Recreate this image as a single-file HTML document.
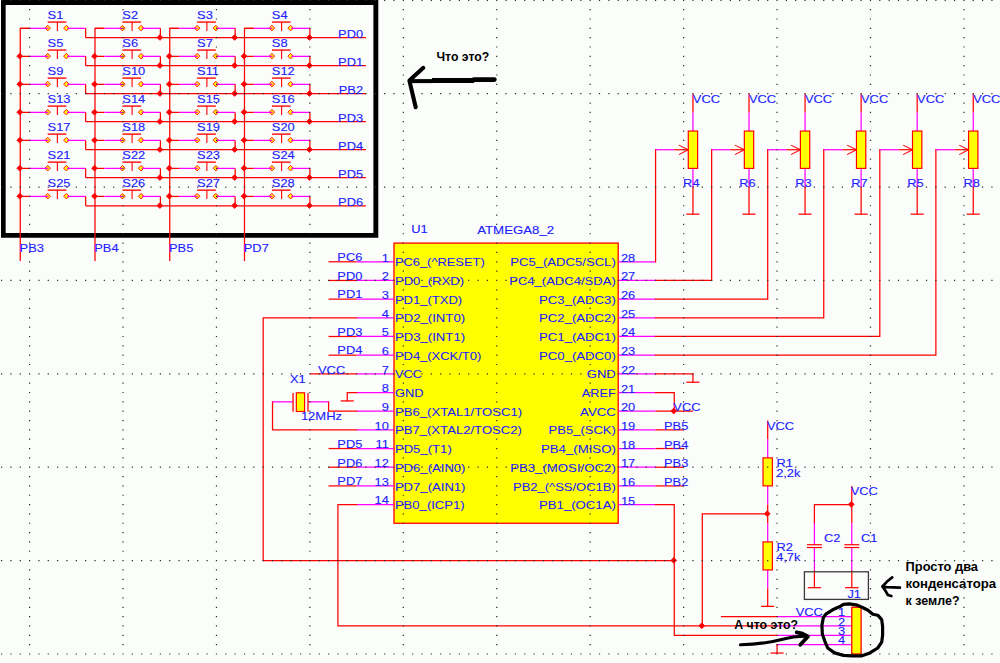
<!DOCTYPE html>
<html><head><meta charset="utf-8"><style>
html,body{margin:0;padding:0;background:#fbfdfb;}
svg{display:block;font-family:"Liberation Sans",sans-serif;}
</style></head><body>
<svg width="1000" height="663" viewBox="0 0 1000 663">
<rect width="1000" height="663" fill="#fbfdfb"/>
<path d="M1 -1H378.3V237.7H1Z M5.66 5.0H373.4V233.1H5.66Z" fill="#000" fill-rule="evenodd"/>
<polygon points="44.94,28.13 47.69,25.38 50.44,28.13 47.69,30.88" fill="#ffff00" stroke="#ff0000" stroke-width="0.9"/>
<polygon points="63.62,28.13 66.37,25.38 69.12,28.13 66.37,30.88" fill="#ffff00" stroke="#ff0000" stroke-width="0.9"/>
<polygon points="119.68,28.13 122.43,25.38 125.18,28.13 122.43,30.88" fill="#ffff00" stroke="#ff0000" stroke-width="0.9"/>
<polygon points="138.37,28.13 141.12,25.38 143.87,28.13 141.12,30.88" fill="#ffff00" stroke="#ff0000" stroke-width="0.9"/>
<polygon points="194.42,28.13 197.17,25.38 199.92,28.13 197.17,30.88" fill="#ffff00" stroke="#ff0000" stroke-width="0.9"/>
<polygon points="213.11,28.13 215.86,25.38 218.61,28.13 215.86,30.88" fill="#ffff00" stroke="#ff0000" stroke-width="0.9"/>
<polygon points="269.17,28.13 271.92,25.38 274.67,28.13 271.92,30.88" fill="#ffff00" stroke="#ff0000" stroke-width="0.9"/>
<polygon points="287.85,28.13 290.6,25.38 293.35,28.13 290.6,30.88" fill="#ffff00" stroke="#ff0000" stroke-width="0.9"/>
<polygon points="44.94,56.15 47.69,53.4 50.44,56.15 47.69,58.9" fill="#ffff00" stroke="#ff0000" stroke-width="0.9"/>
<polygon points="63.62,56.15 66.37,53.4 69.12,56.15 66.37,58.9" fill="#ffff00" stroke="#ff0000" stroke-width="0.9"/>
<polygon points="119.68,56.15 122.43,53.4 125.18,56.15 122.43,58.9" fill="#ffff00" stroke="#ff0000" stroke-width="0.9"/>
<polygon points="138.37,56.15 141.12,53.4 143.87,56.15 141.12,58.9" fill="#ffff00" stroke="#ff0000" stroke-width="0.9"/>
<polygon points="194.42,56.15 197.17,53.4 199.92,56.15 197.17,58.9" fill="#ffff00" stroke="#ff0000" stroke-width="0.9"/>
<polygon points="213.11,56.15 215.86,53.4 218.61,56.15 215.86,58.9" fill="#ffff00" stroke="#ff0000" stroke-width="0.9"/>
<polygon points="269.17,56.15 271.92,53.4 274.67,56.15 271.92,58.9" fill="#ffff00" stroke="#ff0000" stroke-width="0.9"/>
<polygon points="287.85,56.15 290.6,53.4 293.35,56.15 290.6,58.9" fill="#ffff00" stroke="#ff0000" stroke-width="0.9"/>
<polygon points="44.94,84.16 47.69,81.41 50.44,84.16 47.69,86.91" fill="#ffff00" stroke="#ff0000" stroke-width="0.9"/>
<polygon points="63.62,84.16 66.37,81.41 69.12,84.16 66.37,86.91" fill="#ffff00" stroke="#ff0000" stroke-width="0.9"/>
<polygon points="119.68,84.16 122.43,81.41 125.18,84.16 122.43,86.91" fill="#ffff00" stroke="#ff0000" stroke-width="0.9"/>
<polygon points="138.37,84.16 141.12,81.41 143.87,84.16 141.12,86.91" fill="#ffff00" stroke="#ff0000" stroke-width="0.9"/>
<polygon points="194.42,84.16 197.17,81.41 199.92,84.16 197.17,86.91" fill="#ffff00" stroke="#ff0000" stroke-width="0.9"/>
<polygon points="213.11,84.16 215.86,81.41 218.61,84.16 215.86,86.91" fill="#ffff00" stroke="#ff0000" stroke-width="0.9"/>
<polygon points="269.17,84.16 271.92,81.41 274.67,84.16 271.92,86.91" fill="#ffff00" stroke="#ff0000" stroke-width="0.9"/>
<polygon points="287.85,84.16 290.6,81.41 293.35,84.16 290.6,86.91" fill="#ffff00" stroke="#ff0000" stroke-width="0.9"/>
<polygon points="44.94,112.18 47.69,109.43 50.44,112.18 47.69,114.93" fill="#ffff00" stroke="#ff0000" stroke-width="0.9"/>
<polygon points="63.62,112.18 66.37,109.43 69.12,112.18 66.37,114.93" fill="#ffff00" stroke="#ff0000" stroke-width="0.9"/>
<polygon points="119.68,112.18 122.43,109.43 125.18,112.18 122.43,114.93" fill="#ffff00" stroke="#ff0000" stroke-width="0.9"/>
<polygon points="138.37,112.18 141.12,109.43 143.87,112.18 141.12,114.93" fill="#ffff00" stroke="#ff0000" stroke-width="0.9"/>
<polygon points="194.42,112.18 197.17,109.43 199.92,112.18 197.17,114.93" fill="#ffff00" stroke="#ff0000" stroke-width="0.9"/>
<polygon points="213.11,112.18 215.86,109.43 218.61,112.18 215.86,114.93" fill="#ffff00" stroke="#ff0000" stroke-width="0.9"/>
<polygon points="269.17,112.18 271.92,109.43 274.67,112.18 271.92,114.93" fill="#ffff00" stroke="#ff0000" stroke-width="0.9"/>
<polygon points="287.85,112.18 290.6,109.43 293.35,112.18 290.6,114.93" fill="#ffff00" stroke="#ff0000" stroke-width="0.9"/>
<polygon points="44.94,140.19 47.69,137.44 50.44,140.19 47.69,142.94" fill="#ffff00" stroke="#ff0000" stroke-width="0.9"/>
<polygon points="63.62,140.19 66.37,137.44 69.12,140.19 66.37,142.94" fill="#ffff00" stroke="#ff0000" stroke-width="0.9"/>
<polygon points="119.68,140.19 122.43,137.44 125.18,140.19 122.43,142.94" fill="#ffff00" stroke="#ff0000" stroke-width="0.9"/>
<polygon points="138.37,140.19 141.12,137.44 143.87,140.19 141.12,142.94" fill="#ffff00" stroke="#ff0000" stroke-width="0.9"/>
<polygon points="194.42,140.19 197.17,137.44 199.92,140.19 197.17,142.94" fill="#ffff00" stroke="#ff0000" stroke-width="0.9"/>
<polygon points="213.11,140.19 215.86,137.44 218.61,140.19 215.86,142.94" fill="#ffff00" stroke="#ff0000" stroke-width="0.9"/>
<polygon points="269.17,140.19 271.92,137.44 274.67,140.19 271.92,142.94" fill="#ffff00" stroke="#ff0000" stroke-width="0.9"/>
<polygon points="287.85,140.19 290.6,137.44 293.35,140.19 290.6,142.94" fill="#ffff00" stroke="#ff0000" stroke-width="0.9"/>
<polygon points="44.94,168.2 47.69,165.45 50.44,168.2 47.69,170.95" fill="#ffff00" stroke="#ff0000" stroke-width="0.9"/>
<polygon points="63.62,168.2 66.37,165.45 69.12,168.2 66.37,170.95" fill="#ffff00" stroke="#ff0000" stroke-width="0.9"/>
<polygon points="119.68,168.2 122.43,165.45 125.18,168.2 122.43,170.95" fill="#ffff00" stroke="#ff0000" stroke-width="0.9"/>
<polygon points="138.37,168.2 141.12,165.45 143.87,168.2 141.12,170.95" fill="#ffff00" stroke="#ff0000" stroke-width="0.9"/>
<polygon points="194.42,168.2 197.17,165.45 199.92,168.2 197.17,170.95" fill="#ffff00" stroke="#ff0000" stroke-width="0.9"/>
<polygon points="213.11,168.2 215.86,165.45 218.61,168.2 215.86,170.95" fill="#ffff00" stroke="#ff0000" stroke-width="0.9"/>
<polygon points="269.17,168.2 271.92,165.45 274.67,168.2 271.92,170.95" fill="#ffff00" stroke="#ff0000" stroke-width="0.9"/>
<polygon points="287.85,168.2 290.6,165.45 293.35,168.2 290.6,170.95" fill="#ffff00" stroke="#ff0000" stroke-width="0.9"/>
<polygon points="44.94,196.22 47.69,193.47 50.44,196.22 47.69,198.97" fill="#ffff00" stroke="#ff0000" stroke-width="0.9"/>
<polygon points="63.62,196.22 66.37,193.47 69.12,196.22 66.37,198.97" fill="#ffff00" stroke="#ff0000" stroke-width="0.9"/>
<polygon points="119.68,196.22 122.43,193.47 125.18,196.22 122.43,198.97" fill="#ffff00" stroke="#ff0000" stroke-width="0.9"/>
<polygon points="138.37,196.22 141.12,193.47 143.87,196.22 141.12,198.97" fill="#ffff00" stroke="#ff0000" stroke-width="0.9"/>
<polygon points="194.42,196.22 197.17,193.47 199.92,196.22 197.17,198.97" fill="#ffff00" stroke="#ff0000" stroke-width="0.9"/>
<polygon points="213.11,196.22 215.86,193.47 218.61,196.22 215.86,198.97" fill="#ffff00" stroke="#ff0000" stroke-width="0.9"/>
<polygon points="269.17,196.22 271.92,193.47 274.67,196.22 271.92,198.97" fill="#ffff00" stroke="#ff0000" stroke-width="0.9"/>
<polygon points="287.85,196.22 290.6,193.47 293.35,196.22 290.6,198.97" fill="#ffff00" stroke="#ff0000" stroke-width="0.9"/>
<line x1="20.26" y1="28.33" x2="29.6" y2="28.33" stroke="#ff0000" stroke-width="1.25" stroke-linecap="butt"/>
<line x1="29.6" y1="28.33" x2="48.29" y2="28.33" stroke="#ff00ff" stroke-width="1.25" stroke-linecap="butt"/>
<line x1="66.97" y1="28.33" x2="85.66" y2="28.33" stroke="#ff00ff" stroke-width="1.25" stroke-linecap="butt"/>
<line x1="85.66" y1="28.33" x2="85.66" y2="37.67" stroke="#ff0000" stroke-width="1.25" stroke-linecap="butt"/>
<line x1="47.69" y1="22.08" x2="66.37" y2="22.08" stroke="#ff2020" stroke-width="1.55" stroke-linecap="butt"/>
<line x1="57.38" y1="22.08" x2="57.38" y2="30.95" stroke="#ff0000" stroke-width="1.1" stroke-linecap="butt"/>
<text transform="translate(47.59,19.2) scale(1.25,1)" text-anchor="start" fill="#2020ff" stroke="#2020ff" stroke-width="0.1" font-size="10.3">S1</text>
<line x1="95" y1="28.33" x2="104.34" y2="28.33" stroke="#ff0000" stroke-width="1.25" stroke-linecap="butt"/>
<line x1="104.34" y1="28.33" x2="123.03" y2="28.33" stroke="#ff00ff" stroke-width="1.25" stroke-linecap="butt"/>
<line x1="141.72" y1="28.33" x2="160.4" y2="28.33" stroke="#ff00ff" stroke-width="1.25" stroke-linecap="butt"/>
<line x1="160.4" y1="28.33" x2="160.4" y2="37.67" stroke="#ff0000" stroke-width="1.25" stroke-linecap="butt"/>
<line x1="122.43" y1="22.08" x2="141.12" y2="22.08" stroke="#ff2020" stroke-width="1.55" stroke-linecap="butt"/>
<line x1="132.12" y1="22.08" x2="132.12" y2="30.95" stroke="#ff0000" stroke-width="1.1" stroke-linecap="butt"/>
<text transform="translate(122.33,19.2) scale(1.25,1)" text-anchor="start" fill="#2020ff" stroke="#2020ff" stroke-width="0.1" font-size="10.3">S2</text>
<line x1="169.75" y1="28.33" x2="179.09" y2="28.33" stroke="#ff0000" stroke-width="1.25" stroke-linecap="butt"/>
<line x1="179.09" y1="28.33" x2="197.77" y2="28.33" stroke="#ff00ff" stroke-width="1.25" stroke-linecap="butt"/>
<line x1="216.46" y1="28.33" x2="235.15" y2="28.33" stroke="#ff00ff" stroke-width="1.25" stroke-linecap="butt"/>
<line x1="235.15" y1="28.33" x2="235.15" y2="37.67" stroke="#ff0000" stroke-width="1.25" stroke-linecap="butt"/>
<line x1="197.17" y1="22.08" x2="215.86" y2="22.08" stroke="#ff2020" stroke-width="1.55" stroke-linecap="butt"/>
<line x1="206.87" y1="22.08" x2="206.87" y2="30.95" stroke="#ff0000" stroke-width="1.1" stroke-linecap="butt"/>
<text transform="translate(197.07,19.2) scale(1.25,1)" text-anchor="start" fill="#2020ff" stroke="#2020ff" stroke-width="0.1" font-size="10.3">S3</text>
<line x1="244.49" y1="28.33" x2="253.83" y2="28.33" stroke="#ff0000" stroke-width="1.25" stroke-linecap="butt"/>
<line x1="253.83" y1="28.33" x2="272.52" y2="28.33" stroke="#ff00ff" stroke-width="1.25" stroke-linecap="butt"/>
<line x1="291.2" y1="28.33" x2="309.89" y2="28.33" stroke="#ff00ff" stroke-width="1.25" stroke-linecap="butt"/>
<line x1="309.89" y1="28.33" x2="309.89" y2="37.67" stroke="#ff0000" stroke-width="1.25" stroke-linecap="butt"/>
<line x1="271.92" y1="22.08" x2="290.6" y2="22.08" stroke="#ff2020" stroke-width="1.55" stroke-linecap="butt"/>
<line x1="281.61" y1="22.08" x2="281.61" y2="30.95" stroke="#ff0000" stroke-width="1.1" stroke-linecap="butt"/>
<text transform="translate(271.82,19.2) scale(1.25,1)" text-anchor="start" fill="#2020ff" stroke="#2020ff" stroke-width="0.1" font-size="10.3">S4</text>
<line x1="85.66" y1="37.67" x2="365.95" y2="37.67" stroke="#ff0000" stroke-width="1.25" stroke-linecap="butt"/>
<text transform="translate(363.11,37.57) scale(1.25,1)" text-anchor="end" fill="#2020ff" stroke="#2020ff" stroke-width="0.1" font-size="10.3">PD0</text>
<line x1="20.26" y1="56.35" x2="29.6" y2="56.35" stroke="#ff0000" stroke-width="1.25" stroke-linecap="butt"/>
<line x1="29.6" y1="56.35" x2="48.29" y2="56.35" stroke="#ff00ff" stroke-width="1.25" stroke-linecap="butt"/>
<line x1="66.97" y1="56.35" x2="85.66" y2="56.35" stroke="#ff00ff" stroke-width="1.25" stroke-linecap="butt"/>
<line x1="85.66" y1="56.35" x2="85.66" y2="65.69" stroke="#ff0000" stroke-width="1.25" stroke-linecap="butt"/>
<line x1="47.69" y1="50.09" x2="66.37" y2="50.09" stroke="#ff2020" stroke-width="1.55" stroke-linecap="butt"/>
<line x1="57.38" y1="50.09" x2="57.38" y2="58.96" stroke="#ff0000" stroke-width="1.1" stroke-linecap="butt"/>
<text transform="translate(47.59,47.21) scale(1.25,1)" text-anchor="start" fill="#2020ff" stroke="#2020ff" stroke-width="0.1" font-size="10.3">S5</text>
<line x1="95" y1="56.35" x2="104.34" y2="56.35" stroke="#ff0000" stroke-width="1.25" stroke-linecap="butt"/>
<line x1="104.34" y1="56.35" x2="123.03" y2="56.35" stroke="#ff00ff" stroke-width="1.25" stroke-linecap="butt"/>
<line x1="141.72" y1="56.35" x2="160.4" y2="56.35" stroke="#ff00ff" stroke-width="1.25" stroke-linecap="butt"/>
<line x1="160.4" y1="56.35" x2="160.4" y2="65.69" stroke="#ff0000" stroke-width="1.25" stroke-linecap="butt"/>
<line x1="122.43" y1="50.09" x2="141.12" y2="50.09" stroke="#ff2020" stroke-width="1.55" stroke-linecap="butt"/>
<line x1="132.12" y1="50.09" x2="132.12" y2="58.96" stroke="#ff0000" stroke-width="1.1" stroke-linecap="butt"/>
<text transform="translate(122.33,47.21) scale(1.25,1)" text-anchor="start" fill="#2020ff" stroke="#2020ff" stroke-width="0.1" font-size="10.3">S6</text>
<line x1="169.75" y1="56.35" x2="179.09" y2="56.35" stroke="#ff0000" stroke-width="1.25" stroke-linecap="butt"/>
<line x1="179.09" y1="56.35" x2="197.77" y2="56.35" stroke="#ff00ff" stroke-width="1.25" stroke-linecap="butt"/>
<line x1="216.46" y1="56.35" x2="235.15" y2="56.35" stroke="#ff00ff" stroke-width="1.25" stroke-linecap="butt"/>
<line x1="235.15" y1="56.35" x2="235.15" y2="65.69" stroke="#ff0000" stroke-width="1.25" stroke-linecap="butt"/>
<line x1="197.17" y1="50.09" x2="215.86" y2="50.09" stroke="#ff2020" stroke-width="1.55" stroke-linecap="butt"/>
<line x1="206.87" y1="50.09" x2="206.87" y2="58.96" stroke="#ff0000" stroke-width="1.1" stroke-linecap="butt"/>
<text transform="translate(197.07,47.21) scale(1.25,1)" text-anchor="start" fill="#2020ff" stroke="#2020ff" stroke-width="0.1" font-size="10.3">S7</text>
<line x1="244.49" y1="56.35" x2="253.83" y2="56.35" stroke="#ff0000" stroke-width="1.25" stroke-linecap="butt"/>
<line x1="253.83" y1="56.35" x2="272.52" y2="56.35" stroke="#ff00ff" stroke-width="1.25" stroke-linecap="butt"/>
<line x1="291.2" y1="56.35" x2="309.89" y2="56.35" stroke="#ff00ff" stroke-width="1.25" stroke-linecap="butt"/>
<line x1="309.89" y1="56.35" x2="309.89" y2="65.69" stroke="#ff0000" stroke-width="1.25" stroke-linecap="butt"/>
<line x1="271.92" y1="50.09" x2="290.6" y2="50.09" stroke="#ff2020" stroke-width="1.55" stroke-linecap="butt"/>
<line x1="281.61" y1="50.09" x2="281.61" y2="58.96" stroke="#ff0000" stroke-width="1.1" stroke-linecap="butt"/>
<text transform="translate(271.82,47.21) scale(1.25,1)" text-anchor="start" fill="#2020ff" stroke="#2020ff" stroke-width="0.1" font-size="10.3">S8</text>
<line x1="85.66" y1="65.69" x2="365.95" y2="65.69" stroke="#ff0000" stroke-width="1.25" stroke-linecap="butt"/>
<text transform="translate(363.11,65.59) scale(1.25,1)" text-anchor="end" fill="#2020ff" stroke="#2020ff" stroke-width="0.1" font-size="10.3">PD1</text>
<line x1="20.26" y1="84.36" x2="29.6" y2="84.36" stroke="#ff0000" stroke-width="1.25" stroke-linecap="butt"/>
<line x1="29.6" y1="84.36" x2="48.29" y2="84.36" stroke="#ff00ff" stroke-width="1.25" stroke-linecap="butt"/>
<line x1="66.97" y1="84.36" x2="85.66" y2="84.36" stroke="#ff00ff" stroke-width="1.25" stroke-linecap="butt"/>
<line x1="85.66" y1="84.36" x2="85.66" y2="93.7" stroke="#ff0000" stroke-width="1.25" stroke-linecap="butt"/>
<line x1="47.69" y1="78.11" x2="66.37" y2="78.11" stroke="#ff2020" stroke-width="1.55" stroke-linecap="butt"/>
<line x1="57.38" y1="78.11" x2="57.38" y2="86.98" stroke="#ff0000" stroke-width="1.1" stroke-linecap="butt"/>
<text transform="translate(47.59,75.22) scale(1.25,1)" text-anchor="start" fill="#2020ff" stroke="#2020ff" stroke-width="0.1" font-size="10.3">S9</text>
<line x1="95" y1="84.36" x2="104.34" y2="84.36" stroke="#ff0000" stroke-width="1.25" stroke-linecap="butt"/>
<line x1="104.34" y1="84.36" x2="123.03" y2="84.36" stroke="#ff00ff" stroke-width="1.25" stroke-linecap="butt"/>
<line x1="141.72" y1="84.36" x2="160.4" y2="84.36" stroke="#ff00ff" stroke-width="1.25" stroke-linecap="butt"/>
<line x1="160.4" y1="84.36" x2="160.4" y2="93.7" stroke="#ff0000" stroke-width="1.25" stroke-linecap="butt"/>
<line x1="122.43" y1="78.11" x2="141.12" y2="78.11" stroke="#ff2020" stroke-width="1.55" stroke-linecap="butt"/>
<line x1="132.12" y1="78.11" x2="132.12" y2="86.98" stroke="#ff0000" stroke-width="1.1" stroke-linecap="butt"/>
<text transform="translate(122.33,75.22) scale(1.25,1)" text-anchor="start" fill="#2020ff" stroke="#2020ff" stroke-width="0.1" font-size="10.3">S10</text>
<line x1="169.75" y1="84.36" x2="179.09" y2="84.36" stroke="#ff0000" stroke-width="1.25" stroke-linecap="butt"/>
<line x1="179.09" y1="84.36" x2="197.77" y2="84.36" stroke="#ff00ff" stroke-width="1.25" stroke-linecap="butt"/>
<line x1="216.46" y1="84.36" x2="235.15" y2="84.36" stroke="#ff00ff" stroke-width="1.25" stroke-linecap="butt"/>
<line x1="235.15" y1="84.36" x2="235.15" y2="93.7" stroke="#ff0000" stroke-width="1.25" stroke-linecap="butt"/>
<line x1="197.17" y1="78.11" x2="215.86" y2="78.11" stroke="#ff2020" stroke-width="1.55" stroke-linecap="butt"/>
<line x1="206.87" y1="78.11" x2="206.87" y2="86.98" stroke="#ff0000" stroke-width="1.1" stroke-linecap="butt"/>
<text transform="translate(197.07,75.22) scale(1.25,1)" text-anchor="start" fill="#2020ff" stroke="#2020ff" stroke-width="0.1" font-size="10.3">S11</text>
<line x1="244.49" y1="84.36" x2="253.83" y2="84.36" stroke="#ff0000" stroke-width="1.25" stroke-linecap="butt"/>
<line x1="253.83" y1="84.36" x2="272.52" y2="84.36" stroke="#ff00ff" stroke-width="1.25" stroke-linecap="butt"/>
<line x1="291.2" y1="84.36" x2="309.89" y2="84.36" stroke="#ff00ff" stroke-width="1.25" stroke-linecap="butt"/>
<line x1="309.89" y1="84.36" x2="309.89" y2="93.7" stroke="#ff0000" stroke-width="1.25" stroke-linecap="butt"/>
<line x1="271.92" y1="78.11" x2="290.6" y2="78.11" stroke="#ff2020" stroke-width="1.55" stroke-linecap="butt"/>
<line x1="281.61" y1="78.11" x2="281.61" y2="86.98" stroke="#ff0000" stroke-width="1.1" stroke-linecap="butt"/>
<text transform="translate(271.82,75.22) scale(1.25,1)" text-anchor="start" fill="#2020ff" stroke="#2020ff" stroke-width="0.1" font-size="10.3">S12</text>
<line x1="85.66" y1="93.7" x2="365.95" y2="93.7" stroke="#ff0000" stroke-width="1.25" stroke-linecap="butt"/>
<text transform="translate(363.11,93.6) scale(1.25,1)" text-anchor="end" fill="#2020ff" stroke="#2020ff" stroke-width="0.1" font-size="10.3">PB2</text>
<line x1="20.26" y1="112.38" x2="29.6" y2="112.38" stroke="#ff0000" stroke-width="1.25" stroke-linecap="butt"/>
<line x1="29.6" y1="112.38" x2="48.29" y2="112.38" stroke="#ff00ff" stroke-width="1.25" stroke-linecap="butt"/>
<line x1="66.97" y1="112.38" x2="85.66" y2="112.38" stroke="#ff00ff" stroke-width="1.25" stroke-linecap="butt"/>
<line x1="85.66" y1="112.38" x2="85.66" y2="121.71" stroke="#ff0000" stroke-width="1.25" stroke-linecap="butt"/>
<line x1="47.69" y1="106.12" x2="66.37" y2="106.12" stroke="#ff2020" stroke-width="1.55" stroke-linecap="butt"/>
<line x1="57.38" y1="106.12" x2="57.38" y2="114.99" stroke="#ff0000" stroke-width="1.1" stroke-linecap="butt"/>
<text transform="translate(47.59,103.24) scale(1.25,1)" text-anchor="start" fill="#2020ff" stroke="#2020ff" stroke-width="0.1" font-size="10.3">S13</text>
<line x1="95" y1="112.38" x2="104.34" y2="112.38" stroke="#ff0000" stroke-width="1.25" stroke-linecap="butt"/>
<line x1="104.34" y1="112.38" x2="123.03" y2="112.38" stroke="#ff00ff" stroke-width="1.25" stroke-linecap="butt"/>
<line x1="141.72" y1="112.38" x2="160.4" y2="112.38" stroke="#ff00ff" stroke-width="1.25" stroke-linecap="butt"/>
<line x1="160.4" y1="112.38" x2="160.4" y2="121.71" stroke="#ff0000" stroke-width="1.25" stroke-linecap="butt"/>
<line x1="122.43" y1="106.12" x2="141.12" y2="106.12" stroke="#ff2020" stroke-width="1.55" stroke-linecap="butt"/>
<line x1="132.12" y1="106.12" x2="132.12" y2="114.99" stroke="#ff0000" stroke-width="1.1" stroke-linecap="butt"/>
<text transform="translate(122.33,103.24) scale(1.25,1)" text-anchor="start" fill="#2020ff" stroke="#2020ff" stroke-width="0.1" font-size="10.3">S14</text>
<line x1="169.75" y1="112.38" x2="179.09" y2="112.38" stroke="#ff0000" stroke-width="1.25" stroke-linecap="butt"/>
<line x1="179.09" y1="112.38" x2="197.77" y2="112.38" stroke="#ff00ff" stroke-width="1.25" stroke-linecap="butt"/>
<line x1="216.46" y1="112.38" x2="235.15" y2="112.38" stroke="#ff00ff" stroke-width="1.25" stroke-linecap="butt"/>
<line x1="235.15" y1="112.38" x2="235.15" y2="121.71" stroke="#ff0000" stroke-width="1.25" stroke-linecap="butt"/>
<line x1="197.17" y1="106.12" x2="215.86" y2="106.12" stroke="#ff2020" stroke-width="1.55" stroke-linecap="butt"/>
<line x1="206.87" y1="106.12" x2="206.87" y2="114.99" stroke="#ff0000" stroke-width="1.1" stroke-linecap="butt"/>
<text transform="translate(197.07,103.24) scale(1.25,1)" text-anchor="start" fill="#2020ff" stroke="#2020ff" stroke-width="0.1" font-size="10.3">S15</text>
<line x1="244.49" y1="112.38" x2="253.83" y2="112.38" stroke="#ff0000" stroke-width="1.25" stroke-linecap="butt"/>
<line x1="253.83" y1="112.38" x2="272.52" y2="112.38" stroke="#ff00ff" stroke-width="1.25" stroke-linecap="butt"/>
<line x1="291.2" y1="112.38" x2="309.89" y2="112.38" stroke="#ff00ff" stroke-width="1.25" stroke-linecap="butt"/>
<line x1="309.89" y1="112.38" x2="309.89" y2="121.71" stroke="#ff0000" stroke-width="1.25" stroke-linecap="butt"/>
<line x1="271.92" y1="106.12" x2="290.6" y2="106.12" stroke="#ff2020" stroke-width="1.55" stroke-linecap="butt"/>
<line x1="281.61" y1="106.12" x2="281.61" y2="114.99" stroke="#ff0000" stroke-width="1.1" stroke-linecap="butt"/>
<text transform="translate(271.82,103.24) scale(1.25,1)" text-anchor="start" fill="#2020ff" stroke="#2020ff" stroke-width="0.1" font-size="10.3">S16</text>
<line x1="85.66" y1="121.71" x2="365.95" y2="121.71" stroke="#ff0000" stroke-width="1.25" stroke-linecap="butt"/>
<text transform="translate(363.11,121.61) scale(1.25,1)" text-anchor="end" fill="#2020ff" stroke="#2020ff" stroke-width="0.1" font-size="10.3">PD3</text>
<line x1="20.26" y1="140.39" x2="29.6" y2="140.39" stroke="#ff0000" stroke-width="1.25" stroke-linecap="butt"/>
<line x1="29.6" y1="140.39" x2="48.29" y2="140.39" stroke="#ff00ff" stroke-width="1.25" stroke-linecap="butt"/>
<line x1="66.97" y1="140.39" x2="85.66" y2="140.39" stroke="#ff00ff" stroke-width="1.25" stroke-linecap="butt"/>
<line x1="85.66" y1="140.39" x2="85.66" y2="149.73" stroke="#ff0000" stroke-width="1.25" stroke-linecap="butt"/>
<line x1="47.69" y1="134.13" x2="66.37" y2="134.13" stroke="#ff2020" stroke-width="1.55" stroke-linecap="butt"/>
<line x1="57.38" y1="134.13" x2="57.38" y2="143" stroke="#ff0000" stroke-width="1.1" stroke-linecap="butt"/>
<text transform="translate(47.59,131.25) scale(1.25,1)" text-anchor="start" fill="#2020ff" stroke="#2020ff" stroke-width="0.1" font-size="10.3">S17</text>
<line x1="95" y1="140.39" x2="104.34" y2="140.39" stroke="#ff0000" stroke-width="1.25" stroke-linecap="butt"/>
<line x1="104.34" y1="140.39" x2="123.03" y2="140.39" stroke="#ff00ff" stroke-width="1.25" stroke-linecap="butt"/>
<line x1="141.72" y1="140.39" x2="160.4" y2="140.39" stroke="#ff00ff" stroke-width="1.25" stroke-linecap="butt"/>
<line x1="160.4" y1="140.39" x2="160.4" y2="149.73" stroke="#ff0000" stroke-width="1.25" stroke-linecap="butt"/>
<line x1="122.43" y1="134.13" x2="141.12" y2="134.13" stroke="#ff2020" stroke-width="1.55" stroke-linecap="butt"/>
<line x1="132.12" y1="134.13" x2="132.12" y2="143" stroke="#ff0000" stroke-width="1.1" stroke-linecap="butt"/>
<text transform="translate(122.33,131.25) scale(1.25,1)" text-anchor="start" fill="#2020ff" stroke="#2020ff" stroke-width="0.1" font-size="10.3">S18</text>
<line x1="169.75" y1="140.39" x2="179.09" y2="140.39" stroke="#ff0000" stroke-width="1.25" stroke-linecap="butt"/>
<line x1="179.09" y1="140.39" x2="197.77" y2="140.39" stroke="#ff00ff" stroke-width="1.25" stroke-linecap="butt"/>
<line x1="216.46" y1="140.39" x2="235.15" y2="140.39" stroke="#ff00ff" stroke-width="1.25" stroke-linecap="butt"/>
<line x1="235.15" y1="140.39" x2="235.15" y2="149.73" stroke="#ff0000" stroke-width="1.25" stroke-linecap="butt"/>
<line x1="197.17" y1="134.13" x2="215.86" y2="134.13" stroke="#ff2020" stroke-width="1.55" stroke-linecap="butt"/>
<line x1="206.87" y1="134.13" x2="206.87" y2="143" stroke="#ff0000" stroke-width="1.1" stroke-linecap="butt"/>
<text transform="translate(197.07,131.25) scale(1.25,1)" text-anchor="start" fill="#2020ff" stroke="#2020ff" stroke-width="0.1" font-size="10.3">S19</text>
<line x1="244.49" y1="140.39" x2="253.83" y2="140.39" stroke="#ff0000" stroke-width="1.25" stroke-linecap="butt"/>
<line x1="253.83" y1="140.39" x2="272.52" y2="140.39" stroke="#ff00ff" stroke-width="1.25" stroke-linecap="butt"/>
<line x1="291.2" y1="140.39" x2="309.89" y2="140.39" stroke="#ff00ff" stroke-width="1.25" stroke-linecap="butt"/>
<line x1="309.89" y1="140.39" x2="309.89" y2="149.73" stroke="#ff0000" stroke-width="1.25" stroke-linecap="butt"/>
<line x1="271.92" y1="134.13" x2="290.6" y2="134.13" stroke="#ff2020" stroke-width="1.55" stroke-linecap="butt"/>
<line x1="281.61" y1="134.13" x2="281.61" y2="143" stroke="#ff0000" stroke-width="1.1" stroke-linecap="butt"/>
<text transform="translate(271.82,131.25) scale(1.25,1)" text-anchor="start" fill="#2020ff" stroke="#2020ff" stroke-width="0.1" font-size="10.3">S20</text>
<line x1="85.66" y1="149.73" x2="365.95" y2="149.73" stroke="#ff0000" stroke-width="1.25" stroke-linecap="butt"/>
<text transform="translate(363.11,149.63) scale(1.25,1)" text-anchor="end" fill="#2020ff" stroke="#2020ff" stroke-width="0.1" font-size="10.3">PD4</text>
<line x1="20.26" y1="168.4" x2="29.6" y2="168.4" stroke="#ff0000" stroke-width="1.25" stroke-linecap="butt"/>
<line x1="29.6" y1="168.4" x2="48.29" y2="168.4" stroke="#ff00ff" stroke-width="1.25" stroke-linecap="butt"/>
<line x1="66.97" y1="168.4" x2="85.66" y2="168.4" stroke="#ff00ff" stroke-width="1.25" stroke-linecap="butt"/>
<line x1="85.66" y1="168.4" x2="85.66" y2="177.74" stroke="#ff0000" stroke-width="1.25" stroke-linecap="butt"/>
<line x1="47.69" y1="162.15" x2="66.37" y2="162.15" stroke="#ff2020" stroke-width="1.55" stroke-linecap="butt"/>
<line x1="57.38" y1="162.15" x2="57.38" y2="171.02" stroke="#ff0000" stroke-width="1.1" stroke-linecap="butt"/>
<text transform="translate(47.59,159.27) scale(1.25,1)" text-anchor="start" fill="#2020ff" stroke="#2020ff" stroke-width="0.1" font-size="10.3">S21</text>
<line x1="95" y1="168.4" x2="104.34" y2="168.4" stroke="#ff0000" stroke-width="1.25" stroke-linecap="butt"/>
<line x1="104.34" y1="168.4" x2="123.03" y2="168.4" stroke="#ff00ff" stroke-width="1.25" stroke-linecap="butt"/>
<line x1="141.72" y1="168.4" x2="160.4" y2="168.4" stroke="#ff00ff" stroke-width="1.25" stroke-linecap="butt"/>
<line x1="160.4" y1="168.4" x2="160.4" y2="177.74" stroke="#ff0000" stroke-width="1.25" stroke-linecap="butt"/>
<line x1="122.43" y1="162.15" x2="141.12" y2="162.15" stroke="#ff2020" stroke-width="1.55" stroke-linecap="butt"/>
<line x1="132.12" y1="162.15" x2="132.12" y2="171.02" stroke="#ff0000" stroke-width="1.1" stroke-linecap="butt"/>
<text transform="translate(122.33,159.27) scale(1.25,1)" text-anchor="start" fill="#2020ff" stroke="#2020ff" stroke-width="0.1" font-size="10.3">S22</text>
<line x1="169.75" y1="168.4" x2="179.09" y2="168.4" stroke="#ff0000" stroke-width="1.25" stroke-linecap="butt"/>
<line x1="179.09" y1="168.4" x2="197.77" y2="168.4" stroke="#ff00ff" stroke-width="1.25" stroke-linecap="butt"/>
<line x1="216.46" y1="168.4" x2="235.15" y2="168.4" stroke="#ff00ff" stroke-width="1.25" stroke-linecap="butt"/>
<line x1="235.15" y1="168.4" x2="235.15" y2="177.74" stroke="#ff0000" stroke-width="1.25" stroke-linecap="butt"/>
<line x1="197.17" y1="162.15" x2="215.86" y2="162.15" stroke="#ff2020" stroke-width="1.55" stroke-linecap="butt"/>
<line x1="206.87" y1="162.15" x2="206.87" y2="171.02" stroke="#ff0000" stroke-width="1.1" stroke-linecap="butt"/>
<text transform="translate(197.07,159.27) scale(1.25,1)" text-anchor="start" fill="#2020ff" stroke="#2020ff" stroke-width="0.1" font-size="10.3">S23</text>
<line x1="244.49" y1="168.4" x2="253.83" y2="168.4" stroke="#ff0000" stroke-width="1.25" stroke-linecap="butt"/>
<line x1="253.83" y1="168.4" x2="272.52" y2="168.4" stroke="#ff00ff" stroke-width="1.25" stroke-linecap="butt"/>
<line x1="291.2" y1="168.4" x2="309.89" y2="168.4" stroke="#ff00ff" stroke-width="1.25" stroke-linecap="butt"/>
<line x1="309.89" y1="168.4" x2="309.89" y2="177.74" stroke="#ff0000" stroke-width="1.25" stroke-linecap="butt"/>
<line x1="271.92" y1="162.15" x2="290.6" y2="162.15" stroke="#ff2020" stroke-width="1.55" stroke-linecap="butt"/>
<line x1="281.61" y1="162.15" x2="281.61" y2="171.02" stroke="#ff0000" stroke-width="1.1" stroke-linecap="butt"/>
<text transform="translate(271.82,159.27) scale(1.25,1)" text-anchor="start" fill="#2020ff" stroke="#2020ff" stroke-width="0.1" font-size="10.3">S24</text>
<line x1="85.66" y1="177.74" x2="365.95" y2="177.74" stroke="#ff0000" stroke-width="1.25" stroke-linecap="butt"/>
<text transform="translate(363.11,177.64) scale(1.25,1)" text-anchor="end" fill="#2020ff" stroke="#2020ff" stroke-width="0.1" font-size="10.3">PD5</text>
<line x1="20.26" y1="196.42" x2="29.6" y2="196.42" stroke="#ff0000" stroke-width="1.25" stroke-linecap="butt"/>
<line x1="29.6" y1="196.42" x2="48.29" y2="196.42" stroke="#ff00ff" stroke-width="1.25" stroke-linecap="butt"/>
<line x1="66.97" y1="196.42" x2="85.66" y2="196.42" stroke="#ff00ff" stroke-width="1.25" stroke-linecap="butt"/>
<line x1="85.66" y1="196.42" x2="85.66" y2="205.76" stroke="#ff0000" stroke-width="1.25" stroke-linecap="butt"/>
<line x1="47.69" y1="190.16" x2="66.37" y2="190.16" stroke="#ff2020" stroke-width="1.55" stroke-linecap="butt"/>
<line x1="57.38" y1="190.16" x2="57.38" y2="199.03" stroke="#ff0000" stroke-width="1.1" stroke-linecap="butt"/>
<text transform="translate(47.59,187.28) scale(1.25,1)" text-anchor="start" fill="#2020ff" stroke="#2020ff" stroke-width="0.1" font-size="10.3">S25</text>
<line x1="95" y1="196.42" x2="104.34" y2="196.42" stroke="#ff0000" stroke-width="1.25" stroke-linecap="butt"/>
<line x1="104.34" y1="196.42" x2="123.03" y2="196.42" stroke="#ff00ff" stroke-width="1.25" stroke-linecap="butt"/>
<line x1="141.72" y1="196.42" x2="160.4" y2="196.42" stroke="#ff00ff" stroke-width="1.25" stroke-linecap="butt"/>
<line x1="160.4" y1="196.42" x2="160.4" y2="205.76" stroke="#ff0000" stroke-width="1.25" stroke-linecap="butt"/>
<line x1="122.43" y1="190.16" x2="141.12" y2="190.16" stroke="#ff2020" stroke-width="1.55" stroke-linecap="butt"/>
<line x1="132.12" y1="190.16" x2="132.12" y2="199.03" stroke="#ff0000" stroke-width="1.1" stroke-linecap="butt"/>
<text transform="translate(122.33,187.28) scale(1.25,1)" text-anchor="start" fill="#2020ff" stroke="#2020ff" stroke-width="0.1" font-size="10.3">S26</text>
<line x1="169.75" y1="196.42" x2="179.09" y2="196.42" stroke="#ff0000" stroke-width="1.25" stroke-linecap="butt"/>
<line x1="179.09" y1="196.42" x2="197.77" y2="196.42" stroke="#ff00ff" stroke-width="1.25" stroke-linecap="butt"/>
<line x1="216.46" y1="196.42" x2="235.15" y2="196.42" stroke="#ff00ff" stroke-width="1.25" stroke-linecap="butt"/>
<line x1="235.15" y1="196.42" x2="235.15" y2="205.76" stroke="#ff0000" stroke-width="1.25" stroke-linecap="butt"/>
<line x1="197.17" y1="190.16" x2="215.86" y2="190.16" stroke="#ff2020" stroke-width="1.55" stroke-linecap="butt"/>
<line x1="206.87" y1="190.16" x2="206.87" y2="199.03" stroke="#ff0000" stroke-width="1.1" stroke-linecap="butt"/>
<text transform="translate(197.07,187.28) scale(1.25,1)" text-anchor="start" fill="#2020ff" stroke="#2020ff" stroke-width="0.1" font-size="10.3">S27</text>
<line x1="244.49" y1="196.42" x2="253.83" y2="196.42" stroke="#ff0000" stroke-width="1.25" stroke-linecap="butt"/>
<line x1="253.83" y1="196.42" x2="272.52" y2="196.42" stroke="#ff00ff" stroke-width="1.25" stroke-linecap="butt"/>
<line x1="291.2" y1="196.42" x2="309.89" y2="196.42" stroke="#ff00ff" stroke-width="1.25" stroke-linecap="butt"/>
<line x1="309.89" y1="196.42" x2="309.89" y2="205.76" stroke="#ff0000" stroke-width="1.25" stroke-linecap="butt"/>
<line x1="271.92" y1="190.16" x2="290.6" y2="190.16" stroke="#ff2020" stroke-width="1.55" stroke-linecap="butt"/>
<line x1="281.61" y1="190.16" x2="281.61" y2="199.03" stroke="#ff0000" stroke-width="1.1" stroke-linecap="butt"/>
<text transform="translate(271.82,187.28) scale(1.25,1)" text-anchor="start" fill="#2020ff" stroke="#2020ff" stroke-width="0.1" font-size="10.3">S28</text>
<line x1="85.66" y1="205.76" x2="365.95" y2="205.76" stroke="#ff0000" stroke-width="1.25" stroke-linecap="butt"/>
<text transform="translate(363.11,205.66) scale(1.25,1)" text-anchor="end" fill="#2020ff" stroke="#2020ff" stroke-width="0.1" font-size="10.3">PD6</text>
<polyline points="29.6,28.33 20.26,28.33 20.26,261.08" fill="none" stroke="#ff0000" stroke-width="1.25"/>
<text transform="translate(19.56,251.95) scale(1.25,1)" text-anchor="start" fill="#2020ff" stroke="#2020ff" stroke-width="0.1" font-size="10.3">PB3</text>
<polyline points="104.34,28.33 95,28.33 95,261.08" fill="none" stroke="#ff0000" stroke-width="1.25"/>
<text transform="translate(94.3,251.95) scale(1.25,1)" text-anchor="start" fill="#2020ff" stroke="#2020ff" stroke-width="0.1" font-size="10.3">PB4</text>
<polyline points="179.09,28.33 169.75,28.33 169.75,261.08" fill="none" stroke="#ff0000" stroke-width="1.25"/>
<text transform="translate(169.04,251.95) scale(1.25,1)" text-anchor="start" fill="#2020ff" stroke="#2020ff" stroke-width="0.1" font-size="10.3">PB5</text>
<polyline points="253.83,28.33 244.49,28.33 244.49,261.08" fill="none" stroke="#ff0000" stroke-width="1.25"/>
<text transform="translate(243.79,251.95) scale(1.25,1)" text-anchor="start" fill="#2020ff" stroke="#2020ff" stroke-width="0.1" font-size="10.3">PD7</text>
<polygon points="16.86,56.15 19.76,53.25 22.66,56.15 19.76,59.05" fill="#ff0000" stroke="#ff0000" stroke-width="0.8" stroke-linejoin="round"/>
<polygon points="91.6,56.15 94.5,53.25 97.4,56.15 94.5,59.05" fill="#ff0000" stroke="#ff0000" stroke-width="0.8" stroke-linejoin="round"/>
<polygon points="166.34,56.15 169.25,53.25 172.15,56.15 169.25,59.05" fill="#ff0000" stroke="#ff0000" stroke-width="0.8" stroke-linejoin="round"/>
<polygon points="241.09,56.15 243.99,53.25 246.89,56.15 243.99,59.05" fill="#ff0000" stroke="#ff0000" stroke-width="0.8" stroke-linejoin="round"/>
<polygon points="16.86,84.16 19.76,81.26 22.66,84.16 19.76,87.06" fill="#ff0000" stroke="#ff0000" stroke-width="0.8" stroke-linejoin="round"/>
<polygon points="91.6,84.16 94.5,81.26 97.4,84.16 94.5,87.06" fill="#ff0000" stroke="#ff0000" stroke-width="0.8" stroke-linejoin="round"/>
<polygon points="166.34,84.16 169.25,81.26 172.15,84.16 169.25,87.06" fill="#ff0000" stroke="#ff0000" stroke-width="0.8" stroke-linejoin="round"/>
<polygon points="241.09,84.16 243.99,81.26 246.89,84.16 243.99,87.06" fill="#ff0000" stroke="#ff0000" stroke-width="0.8" stroke-linejoin="round"/>
<polygon points="16.86,112.18 19.76,109.28 22.66,112.18 19.76,115.08" fill="#ff0000" stroke="#ff0000" stroke-width="0.8" stroke-linejoin="round"/>
<polygon points="91.6,112.18 94.5,109.28 97.4,112.18 94.5,115.08" fill="#ff0000" stroke="#ff0000" stroke-width="0.8" stroke-linejoin="round"/>
<polygon points="166.34,112.18 169.25,109.28 172.15,112.18 169.25,115.08" fill="#ff0000" stroke="#ff0000" stroke-width="0.8" stroke-linejoin="round"/>
<polygon points="241.09,112.18 243.99,109.28 246.89,112.18 243.99,115.08" fill="#ff0000" stroke="#ff0000" stroke-width="0.8" stroke-linejoin="round"/>
<polygon points="16.86,140.19 19.76,137.29 22.66,140.19 19.76,143.09" fill="#ff0000" stroke="#ff0000" stroke-width="0.8" stroke-linejoin="round"/>
<polygon points="91.6,140.19 94.5,137.29 97.4,140.19 94.5,143.09" fill="#ff0000" stroke="#ff0000" stroke-width="0.8" stroke-linejoin="round"/>
<polygon points="166.34,140.19 169.25,137.29 172.15,140.19 169.25,143.09" fill="#ff0000" stroke="#ff0000" stroke-width="0.8" stroke-linejoin="round"/>
<polygon points="241.09,140.19 243.99,137.29 246.89,140.19 243.99,143.09" fill="#ff0000" stroke="#ff0000" stroke-width="0.8" stroke-linejoin="round"/>
<polygon points="16.86,168.2 19.76,165.3 22.66,168.2 19.76,171.1" fill="#ff0000" stroke="#ff0000" stroke-width="0.8" stroke-linejoin="round"/>
<polygon points="91.6,168.2 94.5,165.3 97.4,168.2 94.5,171.1" fill="#ff0000" stroke="#ff0000" stroke-width="0.8" stroke-linejoin="round"/>
<polygon points="166.34,168.2 169.25,165.3 172.15,168.2 169.25,171.1" fill="#ff0000" stroke="#ff0000" stroke-width="0.8" stroke-linejoin="round"/>
<polygon points="241.09,168.2 243.99,165.3 246.89,168.2 243.99,171.1" fill="#ff0000" stroke="#ff0000" stroke-width="0.8" stroke-linejoin="round"/>
<polygon points="16.86,196.22 19.76,193.32 22.66,196.22 19.76,199.12" fill="#ff0000" stroke="#ff0000" stroke-width="0.8" stroke-linejoin="round"/>
<polygon points="91.6,196.22 94.5,193.32 97.4,196.22 94.5,199.12" fill="#ff0000" stroke="#ff0000" stroke-width="0.8" stroke-linejoin="round"/>
<polygon points="166.34,196.22 169.25,193.32 172.15,196.22 169.25,199.12" fill="#ff0000" stroke="#ff0000" stroke-width="0.8" stroke-linejoin="round"/>
<polygon points="241.09,196.22 243.99,193.32 246.89,196.22 243.99,199.12" fill="#ff0000" stroke="#ff0000" stroke-width="0.8" stroke-linejoin="round"/>
<polygon points="157,37.47 159.9,34.57 162.8,37.47 159.9,40.37" fill="#ff0000" stroke="#ff0000" stroke-width="0.8" stroke-linejoin="round"/>
<polygon points="231.75,37.47 234.65,34.57 237.55,37.47 234.65,40.37" fill="#ff0000" stroke="#ff0000" stroke-width="0.8" stroke-linejoin="round"/>
<polygon points="306.49,37.47 309.39,34.57 312.29,37.47 309.39,40.37" fill="#ff0000" stroke="#ff0000" stroke-width="0.8" stroke-linejoin="round"/>
<polygon points="157,65.49 159.9,62.59 162.8,65.49 159.9,68.39" fill="#ff0000" stroke="#ff0000" stroke-width="0.8" stroke-linejoin="round"/>
<polygon points="231.75,65.49 234.65,62.59 237.55,65.49 234.65,68.39" fill="#ff0000" stroke="#ff0000" stroke-width="0.8" stroke-linejoin="round"/>
<polygon points="306.49,65.49 309.39,62.59 312.29,65.49 309.39,68.39" fill="#ff0000" stroke="#ff0000" stroke-width="0.8" stroke-linejoin="round"/>
<polygon points="157,93.5 159.9,90.6 162.8,93.5 159.9,96.4" fill="#ff0000" stroke="#ff0000" stroke-width="0.8" stroke-linejoin="round"/>
<polygon points="231.75,93.5 234.65,90.6 237.55,93.5 234.65,96.4" fill="#ff0000" stroke="#ff0000" stroke-width="0.8" stroke-linejoin="round"/>
<polygon points="306.49,93.5 309.39,90.6 312.29,93.5 309.39,96.4" fill="#ff0000" stroke="#ff0000" stroke-width="0.8" stroke-linejoin="round"/>
<polygon points="157,121.51 159.9,118.61 162.8,121.51 159.9,124.41" fill="#ff0000" stroke="#ff0000" stroke-width="0.8" stroke-linejoin="round"/>
<polygon points="231.75,121.51 234.65,118.61 237.55,121.51 234.65,124.41" fill="#ff0000" stroke="#ff0000" stroke-width="0.8" stroke-linejoin="round"/>
<polygon points="306.49,121.51 309.39,118.61 312.29,121.51 309.39,124.41" fill="#ff0000" stroke="#ff0000" stroke-width="0.8" stroke-linejoin="round"/>
<polygon points="157,149.53 159.9,146.63 162.8,149.53 159.9,152.43" fill="#ff0000" stroke="#ff0000" stroke-width="0.8" stroke-linejoin="round"/>
<polygon points="231.75,149.53 234.65,146.63 237.55,149.53 234.65,152.43" fill="#ff0000" stroke="#ff0000" stroke-width="0.8" stroke-linejoin="round"/>
<polygon points="306.49,149.53 309.39,146.63 312.29,149.53 309.39,152.43" fill="#ff0000" stroke="#ff0000" stroke-width="0.8" stroke-linejoin="round"/>
<polygon points="157,177.54 159.9,174.64 162.8,177.54 159.9,180.44" fill="#ff0000" stroke="#ff0000" stroke-width="0.8" stroke-linejoin="round"/>
<polygon points="231.75,177.54 234.65,174.64 237.55,177.54 234.65,180.44" fill="#ff0000" stroke="#ff0000" stroke-width="0.8" stroke-linejoin="round"/>
<polygon points="306.49,177.54 309.39,174.64 312.29,177.54 309.39,180.44" fill="#ff0000" stroke="#ff0000" stroke-width="0.8" stroke-linejoin="round"/>
<polygon points="157,205.56 159.9,202.66 162.8,205.56 159.9,208.46" fill="#ff0000" stroke="#ff0000" stroke-width="0.8" stroke-linejoin="round"/>
<polygon points="231.75,205.56 234.65,202.66 237.55,205.56 234.65,208.46" fill="#ff0000" stroke="#ff0000" stroke-width="0.8" stroke-linejoin="round"/>
<polygon points="306.49,205.56 309.39,202.66 312.29,205.56 309.39,208.46" fill="#ff0000" stroke="#ff0000" stroke-width="0.8" stroke-linejoin="round"/>
<rect x="393.98" y="243.11" width="224.23" height="280.14" fill="#ffff00" stroke="#ff0000" stroke-width="1.3"/>
<text transform="translate(411.13,233.47) scale(1.25,1)" text-anchor="start" fill="#2020ff" stroke="#2020ff" stroke-width="0.1" font-size="10.3">U1</text>
<text x="477.2" y="233.67" textLength="77" lengthAdjust="spacingAndGlyphs" fill="#2020ff" stroke="#2020ff" stroke-width="0.1" font-size="10.3">ATMEGA8_2</text>
<line x1="356.61" y1="261.78" x2="393.98" y2="261.78" stroke="#ff00ff" stroke-width="1.25" stroke-linecap="butt"/>
<text transform="translate(388.87,261.68) scale(1.25,1)" text-anchor="end" fill="#2020ff" stroke="#2020ff" stroke-width="0.1" font-size="10.3">1</text>
<text x="394.9" y="266.38" textLength="89.8" lengthAdjust="spacingAndGlyphs" fill="#2020ff" stroke="#2020ff" stroke-width="0.05" font-size="10.3">PC6_(^RESET)</text>
<line x1="356.61" y1="280.46" x2="393.98" y2="280.46" stroke="#ff00ff" stroke-width="1.25" stroke-linecap="butt"/>
<text transform="translate(388.87,280.36) scale(1.25,1)" text-anchor="end" fill="#2020ff" stroke="#2020ff" stroke-width="0.1" font-size="10.3">2</text>
<text x="394.9" y="285.06" textLength="69.2" lengthAdjust="spacingAndGlyphs" fill="#2020ff" stroke="#2020ff" stroke-width="0.05" font-size="10.3">PD0_(RXD)</text>
<line x1="356.61" y1="299.14" x2="393.98" y2="299.14" stroke="#ff00ff" stroke-width="1.25" stroke-linecap="butt"/>
<text transform="translate(388.87,299.04) scale(1.25,1)" text-anchor="end" fill="#2020ff" stroke="#2020ff" stroke-width="0.1" font-size="10.3">3</text>
<text x="394.9" y="303.74" textLength="67.3" lengthAdjust="spacingAndGlyphs" fill="#2020ff" stroke="#2020ff" stroke-width="0.05" font-size="10.3">PD1_(TXD)</text>
<line x1="356.61" y1="317.81" x2="393.98" y2="317.81" stroke="#ff00ff" stroke-width="1.25" stroke-linecap="butt"/>
<text transform="translate(388.87,317.71) scale(1.25,1)" text-anchor="end" fill="#2020ff" stroke="#2020ff" stroke-width="0.1" font-size="10.3">4</text>
<text x="394.9" y="322.41" textLength="70.2" lengthAdjust="spacingAndGlyphs" fill="#2020ff" stroke="#2020ff" stroke-width="0.05" font-size="10.3">PD2_(INT0)</text>
<line x1="356.61" y1="336.49" x2="393.98" y2="336.49" stroke="#ff00ff" stroke-width="1.25" stroke-linecap="butt"/>
<text transform="translate(388.87,336.39) scale(1.25,1)" text-anchor="end" fill="#2020ff" stroke="#2020ff" stroke-width="0.1" font-size="10.3">5</text>
<text x="394.9" y="341.09" textLength="70.2" lengthAdjust="spacingAndGlyphs" fill="#2020ff" stroke="#2020ff" stroke-width="0.05" font-size="10.3">PD3_(INT1)</text>
<line x1="356.61" y1="355.16" x2="393.98" y2="355.16" stroke="#ff00ff" stroke-width="1.25" stroke-linecap="butt"/>
<text transform="translate(388.87,355.06) scale(1.25,1)" text-anchor="end" fill="#2020ff" stroke="#2020ff" stroke-width="0.1" font-size="10.3">6</text>
<text x="394.9" y="359.76" textLength="86.4" lengthAdjust="spacingAndGlyphs" fill="#2020ff" stroke="#2020ff" stroke-width="0.05" font-size="10.3">PD4_(XCK/T0)</text>
<line x1="356.61" y1="373.84" x2="393.98" y2="373.84" stroke="#ff00ff" stroke-width="1.25" stroke-linecap="butt"/>
<text transform="translate(388.87,373.74) scale(1.25,1)" text-anchor="end" fill="#2020ff" stroke="#2020ff" stroke-width="0.1" font-size="10.3">7</text>
<text x="394.9" y="378.44" textLength="27" lengthAdjust="spacingAndGlyphs" fill="#2020ff" stroke="#2020ff" stroke-width="0.05" font-size="10.3">VCC</text>
<line x1="356.61" y1="392.52" x2="393.98" y2="392.52" stroke="#ff00ff" stroke-width="1.25" stroke-linecap="butt"/>
<text transform="translate(388.87,392.42) scale(1.25,1)" text-anchor="end" fill="#2020ff" stroke="#2020ff" stroke-width="0.1" font-size="10.3">8</text>
<text x="394.9" y="397.12" textLength="28.6" lengthAdjust="spacingAndGlyphs" fill="#2020ff" stroke="#2020ff" stroke-width="0.05" font-size="10.3">GND</text>
<line x1="356.61" y1="411.19" x2="393.98" y2="411.19" stroke="#ff00ff" stroke-width="1.25" stroke-linecap="butt"/>
<text transform="translate(388.87,411.09) scale(1.25,1)" text-anchor="end" fill="#2020ff" stroke="#2020ff" stroke-width="0.1" font-size="10.3">9</text>
<text x="394.9" y="415.79" textLength="127.3" lengthAdjust="spacingAndGlyphs" fill="#2020ff" stroke="#2020ff" stroke-width="0.05" font-size="10.3">PB6_(XTAL1/TOSC1)</text>
<line x1="356.61" y1="429.87" x2="393.98" y2="429.87" stroke="#ff00ff" stroke-width="1.25" stroke-linecap="butt"/>
<text transform="translate(388.87,429.77) scale(1.25,1)" text-anchor="end" fill="#2020ff" stroke="#2020ff" stroke-width="0.1" font-size="10.3">10</text>
<text x="394.9" y="434.47" textLength="127.1" lengthAdjust="spacingAndGlyphs" fill="#2020ff" stroke="#2020ff" stroke-width="0.05" font-size="10.3">PB7_(XTAL2/TOSC2)</text>
<line x1="356.61" y1="448.54" x2="393.98" y2="448.54" stroke="#ff00ff" stroke-width="1.25" stroke-linecap="butt"/>
<text transform="translate(388.87,448.44) scale(1.25,1)" text-anchor="end" fill="#2020ff" stroke="#2020ff" stroke-width="0.1" font-size="10.3">11</text>
<text x="394.9" y="453.14" textLength="56.9" lengthAdjust="spacingAndGlyphs" fill="#2020ff" stroke="#2020ff" stroke-width="0.05" font-size="10.3">PD5_(T1)</text>
<line x1="356.61" y1="467.22" x2="393.98" y2="467.22" stroke="#ff00ff" stroke-width="1.25" stroke-linecap="butt"/>
<text transform="translate(388.87,467.12) scale(1.25,1)" text-anchor="end" fill="#2020ff" stroke="#2020ff" stroke-width="0.1" font-size="10.3">12</text>
<text x="394.9" y="471.82" textLength="70.6" lengthAdjust="spacingAndGlyphs" fill="#2020ff" stroke="#2020ff" stroke-width="0.05" font-size="10.3">PD6_(AIN0)</text>
<line x1="356.61" y1="485.9" x2="393.98" y2="485.9" stroke="#ff00ff" stroke-width="1.25" stroke-linecap="butt"/>
<text transform="translate(388.87,485.8) scale(1.25,1)" text-anchor="end" fill="#2020ff" stroke="#2020ff" stroke-width="0.1" font-size="10.3">13</text>
<text x="394.9" y="490.5" textLength="70.6" lengthAdjust="spacingAndGlyphs" fill="#2020ff" stroke="#2020ff" stroke-width="0.05" font-size="10.3">PD7_(AIN1)</text>
<line x1="356.61" y1="504.57" x2="393.98" y2="504.57" stroke="#ff00ff" stroke-width="1.25" stroke-linecap="butt"/>
<text transform="translate(388.87,504.47) scale(1.25,1)" text-anchor="end" fill="#2020ff" stroke="#2020ff" stroke-width="0.1" font-size="10.3">14</text>
<text x="394.9" y="509.17" textLength="69.8" lengthAdjust="spacingAndGlyphs" fill="#2020ff" stroke="#2020ff" stroke-width="0.05" font-size="10.3">PB0_(ICP1)</text>
<line x1="618.21" y1="261.78" x2="655.58" y2="261.78" stroke="#ff00ff" stroke-width="1.25" stroke-linecap="butt"/>
<text transform="translate(620.91,261.78) scale(1.25,1)" text-anchor="start" fill="#2020ff" stroke="#2020ff" stroke-width="0.1" font-size="10.3">28</text>
<text x="510.2" y="266.38" textLength="105.6" lengthAdjust="spacingAndGlyphs" fill="#2020ff" stroke="#2020ff" stroke-width="0.05" font-size="10.3">PC5_(ADC5/SCL)</text>
<line x1="618.21" y1="280.46" x2="655.58" y2="280.46" stroke="#ff00ff" stroke-width="1.25" stroke-linecap="butt"/>
<text transform="translate(620.91,280.46) scale(1.25,1)" text-anchor="start" fill="#2020ff" stroke="#2020ff" stroke-width="0.1" font-size="10.3">27</text>
<text x="509.2" y="285.06" textLength="106.6" lengthAdjust="spacingAndGlyphs" fill="#2020ff" stroke="#2020ff" stroke-width="0.05" font-size="10.3">PC4_(ADC4/SDA)</text>
<line x1="618.21" y1="299.14" x2="655.58" y2="299.14" stroke="#ff00ff" stroke-width="1.25" stroke-linecap="butt"/>
<text transform="translate(620.91,299.14) scale(1.25,1)" text-anchor="start" fill="#2020ff" stroke="#2020ff" stroke-width="0.1" font-size="10.3">26</text>
<text x="539.1" y="303.74" textLength="76.7" lengthAdjust="spacingAndGlyphs" fill="#2020ff" stroke="#2020ff" stroke-width="0.05" font-size="10.3">PC3_(ADC3)</text>
<line x1="618.21" y1="317.81" x2="655.58" y2="317.81" stroke="#ff00ff" stroke-width="1.25" stroke-linecap="butt"/>
<text transform="translate(620.91,317.81) scale(1.25,1)" text-anchor="start" fill="#2020ff" stroke="#2020ff" stroke-width="0.1" font-size="10.3">25</text>
<text x="539.1" y="322.41" textLength="76.7" lengthAdjust="spacingAndGlyphs" fill="#2020ff" stroke="#2020ff" stroke-width="0.05" font-size="10.3">PC2_(ADC2)</text>
<line x1="618.21" y1="336.49" x2="655.58" y2="336.49" stroke="#ff00ff" stroke-width="1.25" stroke-linecap="butt"/>
<text transform="translate(620.91,336.49) scale(1.25,1)" text-anchor="start" fill="#2020ff" stroke="#2020ff" stroke-width="0.1" font-size="10.3">24</text>
<text x="539.1" y="341.09" textLength="76.7" lengthAdjust="spacingAndGlyphs" fill="#2020ff" stroke="#2020ff" stroke-width="0.05" font-size="10.3">PC1_(ADC1)</text>
<line x1="618.21" y1="355.16" x2="655.58" y2="355.16" stroke="#ff00ff" stroke-width="1.25" stroke-linecap="butt"/>
<text transform="translate(620.91,355.16) scale(1.25,1)" text-anchor="start" fill="#2020ff" stroke="#2020ff" stroke-width="0.1" font-size="10.3">23</text>
<text x="539.1" y="359.76" textLength="76.7" lengthAdjust="spacingAndGlyphs" fill="#2020ff" stroke="#2020ff" stroke-width="0.05" font-size="10.3">PC0_(ADC0)</text>
<line x1="618.21" y1="373.84" x2="655.58" y2="373.84" stroke="#ff00ff" stroke-width="1.25" stroke-linecap="butt"/>
<text transform="translate(620.91,373.84) scale(1.25,1)" text-anchor="start" fill="#2020ff" stroke="#2020ff" stroke-width="0.1" font-size="10.3">22</text>
<text x="586.8" y="378.44" textLength="29" lengthAdjust="spacingAndGlyphs" fill="#2020ff" stroke="#2020ff" stroke-width="0.05" font-size="10.3">GND</text>
<line x1="618.21" y1="392.52" x2="655.58" y2="392.52" stroke="#ff00ff" stroke-width="1.25" stroke-linecap="butt"/>
<text transform="translate(620.91,392.52) scale(1.25,1)" text-anchor="start" fill="#2020ff" stroke="#2020ff" stroke-width="0.1" font-size="10.3">21</text>
<text x="581.8" y="397.12" textLength="34" lengthAdjust="spacingAndGlyphs" fill="#2020ff" stroke="#2020ff" stroke-width="0.05" font-size="10.3">AREF</text>
<line x1="618.21" y1="411.19" x2="655.58" y2="411.19" stroke="#ff00ff" stroke-width="1.25" stroke-linecap="butt"/>
<text transform="translate(620.91,411.19) scale(1.25,1)" text-anchor="start" fill="#2020ff" stroke="#2020ff" stroke-width="0.1" font-size="10.3">20</text>
<text x="580.1" y="415.79" textLength="35.7" lengthAdjust="spacingAndGlyphs" fill="#2020ff" stroke="#2020ff" stroke-width="0.05" font-size="10.3">AVCC</text>
<line x1="618.21" y1="429.87" x2="655.58" y2="429.87" stroke="#ff00ff" stroke-width="1.25" stroke-linecap="butt"/>
<text transform="translate(620.91,429.87) scale(1.25,1)" text-anchor="start" fill="#2020ff" stroke="#2020ff" stroke-width="0.1" font-size="10.3">19</text>
<text x="548.6" y="434.47" textLength="67.2" lengthAdjust="spacingAndGlyphs" fill="#2020ff" stroke="#2020ff" stroke-width="0.05" font-size="10.3">PB5_(SCK)</text>
<line x1="618.21" y1="448.54" x2="655.58" y2="448.54" stroke="#ff00ff" stroke-width="1.25" stroke-linecap="butt"/>
<text transform="translate(620.91,448.54) scale(1.25,1)" text-anchor="start" fill="#2020ff" stroke="#2020ff" stroke-width="0.1" font-size="10.3">18</text>
<text x="541" y="453.14" textLength="74.8" lengthAdjust="spacingAndGlyphs" fill="#2020ff" stroke="#2020ff" stroke-width="0.05" font-size="10.3">PB4_(MISO)</text>
<line x1="618.21" y1="467.22" x2="655.58" y2="467.22" stroke="#ff00ff" stroke-width="1.25" stroke-linecap="butt"/>
<text transform="translate(620.91,467.22) scale(1.25,1)" text-anchor="start" fill="#2020ff" stroke="#2020ff" stroke-width="0.1" font-size="10.3">17</text>
<text x="510.2" y="471.82" textLength="105.6" lengthAdjust="spacingAndGlyphs" fill="#2020ff" stroke="#2020ff" stroke-width="0.05" font-size="10.3">PB3_(MOSI/OC2)</text>
<line x1="618.21" y1="485.9" x2="655.58" y2="485.9" stroke="#ff00ff" stroke-width="1.25" stroke-linecap="butt"/>
<text transform="translate(620.91,485.9) scale(1.25,1)" text-anchor="start" fill="#2020ff" stroke="#2020ff" stroke-width="0.1" font-size="10.3">16</text>
<text x="513" y="490.5" textLength="102.8" lengthAdjust="spacingAndGlyphs" fill="#2020ff" stroke="#2020ff" stroke-width="0.05" font-size="10.3">PB2_(^SS/OC1B)</text>
<line x1="618.21" y1="504.57" x2="655.58" y2="504.57" stroke="#ff00ff" stroke-width="1.25" stroke-linecap="butt"/>
<text transform="translate(620.91,504.57) scale(1.25,1)" text-anchor="start" fill="#2020ff" stroke="#2020ff" stroke-width="0.1" font-size="10.3">15</text>
<text x="539.1" y="509.17" textLength="76.7" lengthAdjust="spacingAndGlyphs" fill="#2020ff" stroke="#2020ff" stroke-width="0.05" font-size="10.3">PB1_(OC1A)</text>
<line x1="328.58" y1="261.78" x2="356.61" y2="261.78" stroke="#ff0000" stroke-width="1.25" stroke-linecap="butt"/>
<text transform="translate(337.32,261.08) scale(1.25,1)" text-anchor="start" fill="#2020ff" stroke="#2020ff" stroke-width="0.1" font-size="10.3">PC6</text>
<line x1="328.58" y1="280.46" x2="356.61" y2="280.46" stroke="#ff0000" stroke-width="1.25" stroke-linecap="butt"/>
<text transform="translate(337.32,279.76) scale(1.25,1)" text-anchor="start" fill="#2020ff" stroke="#2020ff" stroke-width="0.1" font-size="10.3">PD0</text>
<line x1="328.58" y1="299.14" x2="356.61" y2="299.14" stroke="#ff0000" stroke-width="1.25" stroke-linecap="butt"/>
<text transform="translate(337.32,298.44) scale(1.25,1)" text-anchor="start" fill="#2020ff" stroke="#2020ff" stroke-width="0.1" font-size="10.3">PD1</text>
<line x1="328.58" y1="336.49" x2="356.61" y2="336.49" stroke="#ff0000" stroke-width="1.25" stroke-linecap="butt"/>
<text transform="translate(337.32,335.79) scale(1.25,1)" text-anchor="start" fill="#2020ff" stroke="#2020ff" stroke-width="0.1" font-size="10.3">PD3</text>
<line x1="328.58" y1="355.16" x2="356.61" y2="355.16" stroke="#ff0000" stroke-width="1.25" stroke-linecap="butt"/>
<text transform="translate(337.32,354.46) scale(1.25,1)" text-anchor="start" fill="#2020ff" stroke="#2020ff" stroke-width="0.1" font-size="10.3">PD4</text>
<line x1="328.58" y1="448.54" x2="356.61" y2="448.54" stroke="#ff0000" stroke-width="1.25" stroke-linecap="butt"/>
<text transform="translate(337.32,447.84) scale(1.25,1)" text-anchor="start" fill="#2020ff" stroke="#2020ff" stroke-width="0.1" font-size="10.3">PD5</text>
<line x1="328.58" y1="467.22" x2="356.61" y2="467.22" stroke="#ff0000" stroke-width="1.25" stroke-linecap="butt"/>
<text transform="translate(337.32,466.52) scale(1.25,1)" text-anchor="start" fill="#2020ff" stroke="#2020ff" stroke-width="0.1" font-size="10.3">PD6</text>
<line x1="328.58" y1="485.9" x2="356.61" y2="485.9" stroke="#ff0000" stroke-width="1.25" stroke-linecap="butt"/>
<text transform="translate(337.32,485.2) scale(1.25,1)" text-anchor="start" fill="#2020ff" stroke="#2020ff" stroke-width="0.1" font-size="10.3">PD7</text>
<polyline points="356.61,317.81 263.18,317.81 263.18,560.6 674.27,560.6" fill="none" stroke="#ff0000" stroke-width="1.25" stroke-linejoin="miter" stroke-linecap="square"/>
<line x1="309.89" y1="373.84" x2="356.61" y2="373.84" stroke="#ff0000" stroke-width="1.25" stroke-linecap="butt"/>
<text transform="translate(318.03,373.74) scale(1.25,1)" text-anchor="start" fill="#2020ff" stroke="#2020ff" stroke-width="0.1" font-size="10.3">VCC</text>
<polyline points="356.61,392.52 347.26,392.52 347.26,400.92" fill="none" stroke="#ff0000" stroke-width="1.25" stroke-linejoin="miter" stroke-linecap="square"/>
<line x1="340.72" y1="400.92" x2="353.8" y2="400.92" stroke="#ff0000" stroke-width="1.25" stroke-linecap="butt"/>
<polyline points="356.61,411.19 328.58,411.19 328.58,401.85" fill="none" stroke="#ff0000" stroke-width="1.25" stroke-linejoin="miter" stroke-linecap="square"/>
<line x1="308.02" y1="401.85" x2="328.58" y2="401.85" stroke="#ff00ff" stroke-width="1.25" stroke-linecap="butt"/>
<polyline points="356.61,429.87 272.52,429.87 272.52,401.85" fill="none" stroke="#ff0000" stroke-width="1.25" stroke-linejoin="miter" stroke-linecap="square"/>
<line x1="272.52" y1="401.85" x2="293.07" y2="401.85" stroke="#ff00ff" stroke-width="1.25" stroke-linecap="butt"/>
<line x1="293.07" y1="392.98" x2="293.07" y2="411.66" stroke="#ff0000" stroke-width="1.3" stroke-linecap="butt"/>
<line x1="308.02" y1="392.98" x2="308.02" y2="411.66" stroke="#ff0000" stroke-width="1.3" stroke-linecap="butt"/>
<rect x="296.34" y="392.8" width="8.22" height="18.68" fill="#ffff00" stroke="#ff0000" stroke-width="1.2"/>
<text transform="translate(289.94,382.88) scale(1.25,1)" text-anchor="start" fill="#2020ff" stroke="#2020ff" stroke-width="0.1" font-size="10.3">X1</text>
<text x="300.9" y="420.13" textLength="41.2" lengthAdjust="spacingAndGlyphs" fill="#2020ff" stroke="#2020ff" stroke-width="0.1" font-size="10.3">12MHz</text>
<polyline points="356.61,504.57 337.92,504.57 337.92,625.97 777.04,625.97" fill="none" stroke="#ff0000" stroke-width="1.25" stroke-linejoin="miter" stroke-linecap="square"/>
<line x1="777.04" y1="625.97" x2="851.78" y2="625.97" stroke="#ff00ff" stroke-width="1.25" stroke-linecap="butt"/>
<polyline points="655.58,261.78 655.58,261.78 655.58,149.73" fill="none" stroke="#ff0000" stroke-width="1.25" stroke-linejoin="miter" stroke-linecap="square"/>
<line x1="655.58" y1="149.73" x2="674.27" y2="149.73" stroke="#ff00ff" stroke-width="1.25" stroke-linecap="butt"/>
<line x1="674.27" y1="149.73" x2="688.28" y2="149.73" stroke="#ff0000" stroke-width="1.2" stroke-linecap="butt"/>
<polyline points="678.88,145.13 688.28,149.73 678.88,154.63" fill="none" stroke="#ff0000" stroke-width="1.1"/>
<line x1="692.95" y1="93.7" x2="692.95" y2="112.38" stroke="#ff0000" stroke-width="1.25" stroke-linecap="butt"/>
<line x1="692.95" y1="112.38" x2="692.95" y2="131.05" stroke="#ff00ff" stroke-width="1.25" stroke-linecap="butt"/>
<line x1="692.95" y1="168.4" x2="692.95" y2="187.08" stroke="#ff00ff" stroke-width="1.25" stroke-linecap="butt"/>
<line x1="692.95" y1="187.08" x2="692.95" y2="214.16" stroke="#ff0000" stroke-width="1.25" stroke-linecap="butt"/>
<line x1="686.41" y1="214.16" x2="699.49" y2="214.16" stroke="#ff0000" stroke-width="1.25" stroke-linecap="butt"/>
<rect x="688.28" y="131.05" width="9.34" height="37.35" fill="#ffff00" stroke="#ff0000" stroke-width="1.2"/>
<text transform="translate(692.85,103.14) scale(1.25,1)" text-anchor="start" fill="#2020ff" stroke="#2020ff" stroke-width="0.1" font-size="10.3">VCC</text>
<text transform="translate(683.11,187.38) scale(1.25,1)" text-anchor="start" fill="#2020ff" stroke="#2020ff" stroke-width="0.1" font-size="10.3">R4</text>
<polyline points="655.58,280.46 711.64,280.46 711.64,149.73" fill="none" stroke="#ff0000" stroke-width="1.25" stroke-linejoin="miter" stroke-linecap="square"/>
<line x1="711.64" y1="149.73" x2="730.33" y2="149.73" stroke="#ff00ff" stroke-width="1.25" stroke-linecap="butt"/>
<line x1="730.33" y1="149.73" x2="744.34" y2="149.73" stroke="#ff0000" stroke-width="1.2" stroke-linecap="butt"/>
<polyline points="734.94,145.13 744.34,149.73 734.94,154.63" fill="none" stroke="#ff0000" stroke-width="1.1"/>
<line x1="749.01" y1="93.7" x2="749.01" y2="112.38" stroke="#ff0000" stroke-width="1.25" stroke-linecap="butt"/>
<line x1="749.01" y1="112.38" x2="749.01" y2="131.05" stroke="#ff00ff" stroke-width="1.25" stroke-linecap="butt"/>
<line x1="749.01" y1="168.4" x2="749.01" y2="187.08" stroke="#ff00ff" stroke-width="1.25" stroke-linecap="butt"/>
<line x1="749.01" y1="187.08" x2="749.01" y2="214.16" stroke="#ff0000" stroke-width="1.25" stroke-linecap="butt"/>
<line x1="742.47" y1="214.16" x2="755.55" y2="214.16" stroke="#ff0000" stroke-width="1.25" stroke-linecap="butt"/>
<rect x="744.34" y="131.05" width="9.34" height="37.35" fill="#ffff00" stroke="#ff0000" stroke-width="1.2"/>
<text transform="translate(748.91,103.14) scale(1.25,1)" text-anchor="start" fill="#2020ff" stroke="#2020ff" stroke-width="0.1" font-size="10.3">VCC</text>
<text transform="translate(739.17,187.38) scale(1.25,1)" text-anchor="start" fill="#2020ff" stroke="#2020ff" stroke-width="0.1" font-size="10.3">R6</text>
<polyline points="655.58,299.14 767.7,299.14 767.7,149.73" fill="none" stroke="#ff0000" stroke-width="1.25" stroke-linejoin="miter" stroke-linecap="square"/>
<line x1="767.7" y1="149.73" x2="786.38" y2="149.73" stroke="#ff00ff" stroke-width="1.25" stroke-linecap="butt"/>
<line x1="786.38" y1="149.73" x2="800.4" y2="149.73" stroke="#ff0000" stroke-width="1.2" stroke-linecap="butt"/>
<polyline points="791,145.13 800.4,149.73 791,154.63" fill="none" stroke="#ff0000" stroke-width="1.1"/>
<line x1="805.07" y1="93.7" x2="805.07" y2="112.38" stroke="#ff0000" stroke-width="1.25" stroke-linecap="butt"/>
<line x1="805.07" y1="112.38" x2="805.07" y2="131.05" stroke="#ff00ff" stroke-width="1.25" stroke-linecap="butt"/>
<line x1="805.07" y1="168.4" x2="805.07" y2="187.08" stroke="#ff00ff" stroke-width="1.25" stroke-linecap="butt"/>
<line x1="805.07" y1="187.08" x2="805.07" y2="214.16" stroke="#ff0000" stroke-width="1.25" stroke-linecap="butt"/>
<line x1="798.53" y1="214.16" x2="811.61" y2="214.16" stroke="#ff0000" stroke-width="1.25" stroke-linecap="butt"/>
<rect x="800.4" y="131.05" width="9.34" height="37.35" fill="#ffff00" stroke="#ff0000" stroke-width="1.2"/>
<text transform="translate(804.97,103.14) scale(1.25,1)" text-anchor="start" fill="#2020ff" stroke="#2020ff" stroke-width="0.1" font-size="10.3">VCC</text>
<text transform="translate(795.23,187.38) scale(1.25,1)" text-anchor="start" fill="#2020ff" stroke="#2020ff" stroke-width="0.1" font-size="10.3">R3</text>
<polyline points="655.58,317.81 823.75,317.81 823.75,149.73" fill="none" stroke="#ff0000" stroke-width="1.25" stroke-linejoin="miter" stroke-linecap="square"/>
<line x1="823.75" y1="149.73" x2="842.44" y2="149.73" stroke="#ff00ff" stroke-width="1.25" stroke-linecap="butt"/>
<line x1="842.44" y1="149.73" x2="856.46" y2="149.73" stroke="#ff0000" stroke-width="1.2" stroke-linecap="butt"/>
<polyline points="847.06,145.13 856.46,149.73 847.06,154.63" fill="none" stroke="#ff0000" stroke-width="1.1"/>
<line x1="861.13" y1="93.7" x2="861.13" y2="112.38" stroke="#ff0000" stroke-width="1.25" stroke-linecap="butt"/>
<line x1="861.13" y1="112.38" x2="861.13" y2="131.05" stroke="#ff00ff" stroke-width="1.25" stroke-linecap="butt"/>
<line x1="861.13" y1="168.4" x2="861.13" y2="187.08" stroke="#ff00ff" stroke-width="1.25" stroke-linecap="butt"/>
<line x1="861.13" y1="187.08" x2="861.13" y2="214.16" stroke="#ff0000" stroke-width="1.25" stroke-linecap="butt"/>
<line x1="854.59" y1="214.16" x2="867.67" y2="214.16" stroke="#ff0000" stroke-width="1.25" stroke-linecap="butt"/>
<rect x="856.46" y="131.05" width="9.34" height="37.35" fill="#ffff00" stroke="#ff0000" stroke-width="1.2"/>
<text transform="translate(861.03,103.14) scale(1.25,1)" text-anchor="start" fill="#2020ff" stroke="#2020ff" stroke-width="0.1" font-size="10.3">VCC</text>
<text transform="translate(851.28,187.38) scale(1.25,1)" text-anchor="start" fill="#2020ff" stroke="#2020ff" stroke-width="0.1" font-size="10.3">R7</text>
<polyline points="655.58,336.49 879.81,336.49 879.81,149.73" fill="none" stroke="#ff0000" stroke-width="1.25" stroke-linejoin="miter" stroke-linecap="square"/>
<line x1="879.81" y1="149.73" x2="898.5" y2="149.73" stroke="#ff00ff" stroke-width="1.25" stroke-linecap="butt"/>
<line x1="898.5" y1="149.73" x2="912.51" y2="149.73" stroke="#ff0000" stroke-width="1.2" stroke-linecap="butt"/>
<polyline points="903.11,145.13 912.51,149.73 903.11,154.63" fill="none" stroke="#ff0000" stroke-width="1.1"/>
<line x1="917.19" y1="93.7" x2="917.19" y2="112.38" stroke="#ff0000" stroke-width="1.25" stroke-linecap="butt"/>
<line x1="917.19" y1="112.38" x2="917.19" y2="131.05" stroke="#ff00ff" stroke-width="1.25" stroke-linecap="butt"/>
<line x1="917.19" y1="168.4" x2="917.19" y2="187.08" stroke="#ff00ff" stroke-width="1.25" stroke-linecap="butt"/>
<line x1="917.19" y1="187.08" x2="917.19" y2="214.16" stroke="#ff0000" stroke-width="1.25" stroke-linecap="butt"/>
<line x1="910.64" y1="214.16" x2="923.73" y2="214.16" stroke="#ff0000" stroke-width="1.25" stroke-linecap="butt"/>
<rect x="912.51" y="131.05" width="9.34" height="37.35" fill="#ffff00" stroke="#ff0000" stroke-width="1.2"/>
<text transform="translate(917.09,103.14) scale(1.25,1)" text-anchor="start" fill="#2020ff" stroke="#2020ff" stroke-width="0.1" font-size="10.3">VCC</text>
<text transform="translate(907.34,187.38) scale(1.25,1)" text-anchor="start" fill="#2020ff" stroke="#2020ff" stroke-width="0.1" font-size="10.3">R5</text>
<polyline points="655.58,355.16 935.87,355.16 935.87,149.73" fill="none" stroke="#ff0000" stroke-width="1.25" stroke-linejoin="miter" stroke-linecap="square"/>
<line x1="935.87" y1="149.73" x2="954.56" y2="149.73" stroke="#ff00ff" stroke-width="1.25" stroke-linecap="butt"/>
<line x1="954.56" y1="149.73" x2="968.57" y2="149.73" stroke="#ff0000" stroke-width="1.2" stroke-linecap="butt"/>
<polyline points="959.17,145.13 968.57,149.73 959.17,154.63" fill="none" stroke="#ff0000" stroke-width="1.1"/>
<line x1="973.24" y1="93.7" x2="973.24" y2="112.38" stroke="#ff0000" stroke-width="1.25" stroke-linecap="butt"/>
<line x1="973.24" y1="112.38" x2="973.24" y2="131.05" stroke="#ff00ff" stroke-width="1.25" stroke-linecap="butt"/>
<line x1="973.24" y1="168.4" x2="973.24" y2="187.08" stroke="#ff00ff" stroke-width="1.25" stroke-linecap="butt"/>
<line x1="973.24" y1="187.08" x2="973.24" y2="214.16" stroke="#ff0000" stroke-width="1.25" stroke-linecap="butt"/>
<line x1="966.7" y1="214.16" x2="979.78" y2="214.16" stroke="#ff0000" stroke-width="1.25" stroke-linecap="butt"/>
<rect x="968.57" y="131.05" width="9.34" height="37.35" fill="#ffff00" stroke="#ff0000" stroke-width="1.2"/>
<text transform="translate(973.14,103.14) scale(1.25,1)" text-anchor="start" fill="#2020ff" stroke="#2020ff" stroke-width="0.1" font-size="10.3">VCC</text>
<text transform="translate(963.4,187.38) scale(1.25,1)" text-anchor="start" fill="#2020ff" stroke="#2020ff" stroke-width="0.1" font-size="10.3">R8</text>
<polyline points="655.58,373.84 692.95,373.84 692.95,382.24" fill="none" stroke="#ff0000" stroke-width="1.25" stroke-linejoin="miter" stroke-linecap="square"/>
<line x1="686.41" y1="382.24" x2="699.49" y2="382.24" stroke="#ff0000" stroke-width="1.25" stroke-linecap="butt"/>
<polyline points="655.58,392.52 674.27,392.52 674.27,411.19" fill="none" stroke="#ff0000" stroke-width="1.25" stroke-linejoin="miter" stroke-linecap="square"/>
<line x1="655.58" y1="411.19" x2="692.95" y2="411.19" stroke="#ff0000" stroke-width="1.25" stroke-linecap="butt"/>
<text transform="translate(673.37,411.29) scale(1.25,1)" text-anchor="start" fill="#2020ff" stroke="#2020ff" stroke-width="0.1" font-size="10.3">VCC</text>
<line x1="655.58" y1="429.87" x2="683.61" y2="429.87" stroke="#ff0000" stroke-width="1.25" stroke-linecap="butt"/>
<text transform="translate(664.02,429.97) scale(1.25,1)" text-anchor="start" fill="#2020ff" stroke="#2020ff" stroke-width="0.1" font-size="10.3">PB5</text>
<line x1="655.58" y1="448.54" x2="683.61" y2="448.54" stroke="#ff0000" stroke-width="1.25" stroke-linecap="butt"/>
<text transform="translate(664.02,448.64) scale(1.25,1)" text-anchor="start" fill="#2020ff" stroke="#2020ff" stroke-width="0.1" font-size="10.3">PB4</text>
<line x1="655.58" y1="467.22" x2="683.61" y2="467.22" stroke="#ff0000" stroke-width="1.25" stroke-linecap="butt"/>
<text transform="translate(664.02,467.32) scale(1.25,1)" text-anchor="start" fill="#2020ff" stroke="#2020ff" stroke-width="0.1" font-size="10.3">PB3</text>
<line x1="655.58" y1="485.9" x2="683.61" y2="485.9" stroke="#ff0000" stroke-width="1.25" stroke-linecap="butt"/>
<text transform="translate(664.02,486) scale(1.25,1)" text-anchor="start" fill="#2020ff" stroke="#2020ff" stroke-width="0.1" font-size="10.3">PB2</text>
<polyline points="655.58,504.57 674.27,504.57 674.27,635.3 777.04,635.3" fill="none" stroke="#ff0000" stroke-width="1.25" stroke-linejoin="miter" stroke-linecap="square"/>
<line x1="777.04" y1="635.3" x2="851.78" y2="635.3" stroke="#ff00ff" stroke-width="1.25" stroke-linecap="butt"/>
<line x1="767.7" y1="420.53" x2="767.7" y2="439.21" stroke="#ff0000" stroke-width="1.25" stroke-linecap="butt"/>
<line x1="767.7" y1="439.21" x2="767.7" y2="457.88" stroke="#ff00ff" stroke-width="1.25" stroke-linecap="butt"/>
<line x1="767.7" y1="485.9" x2="767.7" y2="504.57" stroke="#ff00ff" stroke-width="1.25" stroke-linecap="butt"/>
<line x1="767.7" y1="504.57" x2="767.7" y2="523.25" stroke="#ff0000" stroke-width="1.25" stroke-linecap="butt"/>
<rect x="763.03" y="457.88" width="9.34" height="28.01" fill="#ffff00" stroke="#ff0000" stroke-width="1.2"/>
<line x1="767.7" y1="523.25" x2="767.7" y2="541.92" stroke="#ff00ff" stroke-width="1.25" stroke-linecap="butt"/>
<line x1="767.7" y1="569.94" x2="767.7" y2="588.61" stroke="#ff00ff" stroke-width="1.25" stroke-linecap="butt"/>
<line x1="767.7" y1="588.61" x2="767.7" y2="606.36" stroke="#ff0000" stroke-width="1.25" stroke-linecap="butt"/>
<line x1="761.16" y1="606.36" x2="774.24" y2="606.36" stroke="#ff0000" stroke-width="1.25" stroke-linecap="butt"/>
<rect x="763.03" y="541.92" width="9.34" height="28.01" fill="#ffff00" stroke="#ff0000" stroke-width="1.2"/>
<text transform="translate(767,429.87) scale(1.25,1)" text-anchor="start" fill="#2020ff" stroke="#2020ff" stroke-width="0.1" font-size="10.3">VCC</text>
<text transform="translate(776.44,466.92) scale(1.25,1)" text-anchor="start" fill="#2020ff" stroke="#2020ff" stroke-width="0.1" font-size="10.3">R1</text>
<text transform="translate(776.14,476.66) scale(1.25,1)" text-anchor="start" fill="#2020ff" stroke="#2020ff" stroke-width="0.1" font-size="10.3">2,2k</text>
<text transform="translate(776.44,551.16) scale(1.25,1)" text-anchor="start" fill="#2020ff" stroke="#2020ff" stroke-width="0.1" font-size="10.3">R2</text>
<text transform="translate(776.14,560.9) scale(1.25,1)" text-anchor="start" fill="#2020ff" stroke="#2020ff" stroke-width="0.1" font-size="10.3">4,7k</text>
<polyline points="767.7,513.91 702.3,513.91 702.3,625.97" fill="none" stroke="#ff0000" stroke-width="1.25" stroke-linejoin="miter" stroke-linecap="square"/>
<line x1="851.78" y1="485.9" x2="851.78" y2="523.25" stroke="#ff0000" stroke-width="1.25" stroke-linecap="butt"/>
<polyline points="851.78,504.57 814.41,504.57 814.41,523.25" fill="none" stroke="#ff0000" stroke-width="1.25" stroke-linejoin="miter" stroke-linecap="square"/>
<line x1="814.41" y1="523.25" x2="814.41" y2="544.73" stroke="#ff00ff" stroke-width="1.25" stroke-linecap="butt"/>
<line x1="814.41" y1="547.53" x2="814.41" y2="569.94" stroke="#ff00ff" stroke-width="1.25" stroke-linecap="butt"/>
<line x1="814.41" y1="569.94" x2="814.41" y2="587.68" stroke="#ff0000" stroke-width="1.25" stroke-linecap="butt"/>
<line x1="807.69" y1="587.68" x2="821.14" y2="587.68" stroke="#ff0000" stroke-width="1.25" stroke-linecap="butt"/>
<line x1="806.94" y1="544.73" x2="821.89" y2="544.73" stroke="#ff0000" stroke-width="1.2" stroke-linecap="butt"/>
<line x1="806.94" y1="547.53" x2="821.89" y2="547.53" stroke="#ff0000" stroke-width="1.2" stroke-linecap="butt"/>
<line x1="851.78" y1="523.25" x2="851.78" y2="544.73" stroke="#ff00ff" stroke-width="1.25" stroke-linecap="butt"/>
<line x1="851.78" y1="547.53" x2="851.78" y2="569.94" stroke="#ff00ff" stroke-width="1.25" stroke-linecap="butt"/>
<line x1="851.78" y1="569.94" x2="851.78" y2="587.68" stroke="#ff0000" stroke-width="1.25" stroke-linecap="butt"/>
<line x1="845.06" y1="587.68" x2="858.51" y2="587.68" stroke="#ff0000" stroke-width="1.25" stroke-linecap="butt"/>
<line x1="844.31" y1="544.73" x2="859.26" y2="544.73" stroke="#ff0000" stroke-width="1.2" stroke-linecap="butt"/>
<line x1="844.31" y1="547.53" x2="859.26" y2="547.53" stroke="#ff0000" stroke-width="1.2" stroke-linecap="butt"/>
<text transform="translate(850.68,495.13) scale(1.25,1)" text-anchor="start" fill="#2020ff" stroke="#2020ff" stroke-width="0.1" font-size="10.3">VCC</text>
<text transform="translate(823.92,541.82) scale(1.25,1)" text-anchor="start" fill="#2020ff" stroke="#2020ff" stroke-width="0.1" font-size="10.3">C2</text>
<text transform="translate(860.9,541.82) scale(1.25,1)" text-anchor="start" fill="#2020ff" stroke="#2020ff" stroke-width="0.1" font-size="10.3">C1</text>
<text transform="translate(847.38,597.95) scale(1.25,1)" text-anchor="start" fill="#2020ff" stroke="#2020ff" stroke-width="0.1" font-size="10.3">J1</text>
<line x1="720.98" y1="616.63" x2="777.04" y2="616.63" stroke="#ff0000" stroke-width="1.25" stroke-linecap="butt"/>
<line x1="777.04" y1="616.63" x2="851.78" y2="616.63" stroke="#ff00ff" stroke-width="1.25" stroke-linecap="butt"/>
<line x1="777.04" y1="644.64" x2="851.78" y2="644.64" stroke="#ff00ff" stroke-width="1.25" stroke-linecap="butt"/>
<polyline points="777.04,644.64 777.04,653.05" fill="none" stroke="#ff0000" stroke-width="1.25" stroke-linejoin="miter" stroke-linecap="square"/>
<line x1="770.5" y1="653.05" x2="783.58" y2="653.05" stroke="#ff0000" stroke-width="1.25" stroke-linecap="butt"/>
<rect x="851.78" y="607.29" width="9.34" height="46.69" fill="#ffff00" stroke="#ff0000" stroke-width="1.3"/>
<text transform="translate(795.73,616.33) scale(1.25,1)" text-anchor="start" fill="#2020ff" stroke="#2020ff" stroke-width="0.1" font-size="10.3">VCC</text>
<text transform="translate(845.18,616.43) scale(1.25,1)" text-anchor="end" fill="#2020ff" stroke="#2020ff" stroke-width="0.1" font-size="10.3">1</text>
<text transform="translate(845.18,625.77) scale(1.25,1)" text-anchor="end" fill="#2020ff" stroke="#2020ff" stroke-width="0.1" font-size="10.3">2</text>
<text transform="translate(845.18,635.1) scale(1.25,1)" text-anchor="end" fill="#2020ff" stroke="#2020ff" stroke-width="0.1" font-size="10.3">3</text>
<text transform="translate(845.18,644.44) scale(1.25,1)" text-anchor="end" fill="#2020ff" stroke="#2020ff" stroke-width="0.1" font-size="10.3">4</text>
<polygon points="670.87,410.99 673.77,408.09 676.67,410.99 673.77,413.89" fill="#ff0000" stroke="#ff0000" stroke-width="0.8" stroke-linejoin="round"/>
<polygon points="670.87,560.4 673.77,557.5 676.67,560.4 673.77,563.3" fill="#ff0000" stroke="#ff0000" stroke-width="0.8" stroke-linejoin="round"/>
<polygon points="764.3,513.71 767.2,510.81 770.1,513.71 767.2,516.61" fill="#ff0000" stroke="#ff0000" stroke-width="0.8" stroke-linejoin="round"/>
<polygon points="698.9,625.77 701.8,622.87 704.7,625.77 701.8,628.67" fill="#ff0000" stroke="#ff0000" stroke-width="0.8" stroke-linejoin="round"/>
<polygon points="848.38,504.37 851.28,501.47 854.18,504.37 851.28,507.27" fill="#ff0000" stroke="#ff0000" stroke-width="0.8" stroke-linejoin="round"/>
<rect x="804.4" y="571.8" width="64" height="27.6" fill="none" stroke="#3a3a3a" stroke-width="1.3"/>
<path d="M0.97 -0.28h1.2v1.2h-1.2zM0.97 93.1h1.2v1.2h-1.2zM0.97 186.48h1.2v1.2h-1.2zM0.97 279.86h1.2v1.2h-1.2zM0.97 373.24h1.2v1.2h-1.2zM0.97 466.62h1.2v1.2h-1.2zM0.97 560h1.2v1.2h-1.2zM0.97 653.38h1.2v1.2h-1.2zM10.31 -0.28h1.2v1.2h-1.2zM10.31 93.1h1.2v1.2h-1.2zM10.31 186.48h1.2v1.2h-1.2zM10.31 279.86h1.2v1.2h-1.2zM10.31 373.24h1.2v1.2h-1.2zM10.31 466.62h1.2v1.2h-1.2zM10.31 560h1.2v1.2h-1.2zM10.31 653.38h1.2v1.2h-1.2zM19.66 -0.28h1.2v1.2h-1.2zM19.66 93.1h1.2v1.2h-1.2zM19.66 186.48h1.2v1.2h-1.2zM19.66 279.86h1.2v1.2h-1.2zM19.66 373.24h1.2v1.2h-1.2zM19.66 466.62h1.2v1.2h-1.2zM19.66 560h1.2v1.2h-1.2zM19.66 653.38h1.2v1.2h-1.2zM29 -0.28h1.2v1.2h-1.2zM29 9.06h1.2v1.2h-1.2zM29 18.4h1.2v1.2h-1.2zM29 27.73h1.2v1.2h-1.2zM29 37.07h1.2v1.2h-1.2zM29 46.41h1.2v1.2h-1.2zM29 55.75h1.2v1.2h-1.2zM29 65.09h1.2v1.2h-1.2zM29 74.42h1.2v1.2h-1.2zM29 83.76h1.2v1.2h-1.2zM29 93.1h1.2v1.2h-1.2zM29 102.44h1.2v1.2h-1.2zM29 111.78h1.2v1.2h-1.2zM29 121.11h1.2v1.2h-1.2zM29 130.45h1.2v1.2h-1.2zM29 139.79h1.2v1.2h-1.2zM29 149.13h1.2v1.2h-1.2zM29 158.47h1.2v1.2h-1.2zM29 167.8h1.2v1.2h-1.2zM29 177.14h1.2v1.2h-1.2zM29 186.48h1.2v1.2h-1.2zM29 195.82h1.2v1.2h-1.2zM29 205.16h1.2v1.2h-1.2zM29 214.49h1.2v1.2h-1.2zM29 223.83h1.2v1.2h-1.2zM29 233.17h1.2v1.2h-1.2zM29 242.51h1.2v1.2h-1.2zM29 251.85h1.2v1.2h-1.2zM29 261.18h1.2v1.2h-1.2zM29 270.52h1.2v1.2h-1.2zM29 279.86h1.2v1.2h-1.2zM29 289.2h1.2v1.2h-1.2zM29 298.54h1.2v1.2h-1.2zM29 307.87h1.2v1.2h-1.2zM29 317.21h1.2v1.2h-1.2zM29 326.55h1.2v1.2h-1.2zM29 335.89h1.2v1.2h-1.2zM29 345.23h1.2v1.2h-1.2zM29 354.56h1.2v1.2h-1.2zM29 363.9h1.2v1.2h-1.2zM29 373.24h1.2v1.2h-1.2zM29 382.58h1.2v1.2h-1.2zM29 391.92h1.2v1.2h-1.2zM29 401.25h1.2v1.2h-1.2zM29 410.59h1.2v1.2h-1.2zM29 419.93h1.2v1.2h-1.2zM29 429.27h1.2v1.2h-1.2zM29 438.61h1.2v1.2h-1.2zM29 447.94h1.2v1.2h-1.2zM29 457.28h1.2v1.2h-1.2zM29 466.62h1.2v1.2h-1.2zM29 475.96h1.2v1.2h-1.2zM29 485.3h1.2v1.2h-1.2zM29 494.63h1.2v1.2h-1.2zM29 503.97h1.2v1.2h-1.2zM29 513.31h1.2v1.2h-1.2zM29 522.65h1.2v1.2h-1.2zM29 531.99h1.2v1.2h-1.2zM29 541.32h1.2v1.2h-1.2zM29 550.66h1.2v1.2h-1.2zM29 560h1.2v1.2h-1.2zM29 569.34h1.2v1.2h-1.2zM29 578.68h1.2v1.2h-1.2zM29 588.01h1.2v1.2h-1.2zM29 597.35h1.2v1.2h-1.2zM29 606.69h1.2v1.2h-1.2zM29 616.03h1.2v1.2h-1.2zM29 625.37h1.2v1.2h-1.2zM29 634.7h1.2v1.2h-1.2zM29 644.04h1.2v1.2h-1.2zM29 653.38h1.2v1.2h-1.2zM38.34 -0.28h1.2v1.2h-1.2zM38.34 93.1h1.2v1.2h-1.2zM38.34 186.48h1.2v1.2h-1.2zM38.34 279.86h1.2v1.2h-1.2zM38.34 373.24h1.2v1.2h-1.2zM38.34 466.62h1.2v1.2h-1.2zM38.34 560h1.2v1.2h-1.2zM38.34 653.38h1.2v1.2h-1.2zM47.69 -0.28h1.2v1.2h-1.2zM47.69 93.1h1.2v1.2h-1.2zM47.69 186.48h1.2v1.2h-1.2zM47.69 279.86h1.2v1.2h-1.2zM47.69 373.24h1.2v1.2h-1.2zM47.69 466.62h1.2v1.2h-1.2zM47.69 560h1.2v1.2h-1.2zM47.69 653.38h1.2v1.2h-1.2zM57.03 -0.28h1.2v1.2h-1.2zM57.03 93.1h1.2v1.2h-1.2zM57.03 186.48h1.2v1.2h-1.2zM57.03 279.86h1.2v1.2h-1.2zM57.03 373.24h1.2v1.2h-1.2zM57.03 466.62h1.2v1.2h-1.2zM57.03 560h1.2v1.2h-1.2zM57.03 653.38h1.2v1.2h-1.2zM66.37 -0.28h1.2v1.2h-1.2zM66.37 93.1h1.2v1.2h-1.2zM66.37 186.48h1.2v1.2h-1.2zM66.37 279.86h1.2v1.2h-1.2zM66.37 373.24h1.2v1.2h-1.2zM66.37 466.62h1.2v1.2h-1.2zM66.37 560h1.2v1.2h-1.2zM66.37 653.38h1.2v1.2h-1.2zM75.72 -0.28h1.2v1.2h-1.2zM75.72 93.1h1.2v1.2h-1.2zM75.72 186.48h1.2v1.2h-1.2zM75.72 279.86h1.2v1.2h-1.2zM75.72 373.24h1.2v1.2h-1.2zM75.72 466.62h1.2v1.2h-1.2zM75.72 560h1.2v1.2h-1.2zM75.72 653.38h1.2v1.2h-1.2zM85.06 -0.28h1.2v1.2h-1.2zM85.06 93.1h1.2v1.2h-1.2zM85.06 186.48h1.2v1.2h-1.2zM85.06 279.86h1.2v1.2h-1.2zM85.06 373.24h1.2v1.2h-1.2zM85.06 466.62h1.2v1.2h-1.2zM85.06 560h1.2v1.2h-1.2zM85.06 653.38h1.2v1.2h-1.2zM94.4 -0.28h1.2v1.2h-1.2zM94.4 93.1h1.2v1.2h-1.2zM94.4 186.48h1.2v1.2h-1.2zM94.4 279.86h1.2v1.2h-1.2zM94.4 373.24h1.2v1.2h-1.2zM94.4 466.62h1.2v1.2h-1.2zM94.4 560h1.2v1.2h-1.2zM94.4 653.38h1.2v1.2h-1.2zM103.74 -0.28h1.2v1.2h-1.2zM103.74 93.1h1.2v1.2h-1.2zM103.74 186.48h1.2v1.2h-1.2zM103.74 279.86h1.2v1.2h-1.2zM103.74 373.24h1.2v1.2h-1.2zM103.74 466.62h1.2v1.2h-1.2zM103.74 560h1.2v1.2h-1.2zM103.74 653.38h1.2v1.2h-1.2zM113.09 -0.28h1.2v1.2h-1.2zM113.09 93.1h1.2v1.2h-1.2zM113.09 186.48h1.2v1.2h-1.2zM113.09 279.86h1.2v1.2h-1.2zM113.09 373.24h1.2v1.2h-1.2zM113.09 466.62h1.2v1.2h-1.2zM113.09 560h1.2v1.2h-1.2zM113.09 653.38h1.2v1.2h-1.2zM122.43 -0.28h1.2v1.2h-1.2zM122.43 9.06h1.2v1.2h-1.2zM122.43 18.4h1.2v1.2h-1.2zM122.43 27.73h1.2v1.2h-1.2zM122.43 37.07h1.2v1.2h-1.2zM122.43 46.41h1.2v1.2h-1.2zM122.43 55.75h1.2v1.2h-1.2zM122.43 65.09h1.2v1.2h-1.2zM122.43 74.42h1.2v1.2h-1.2zM122.43 83.76h1.2v1.2h-1.2zM122.43 93.1h1.2v1.2h-1.2zM122.43 102.44h1.2v1.2h-1.2zM122.43 111.78h1.2v1.2h-1.2zM122.43 121.11h1.2v1.2h-1.2zM122.43 130.45h1.2v1.2h-1.2zM122.43 139.79h1.2v1.2h-1.2zM122.43 149.13h1.2v1.2h-1.2zM122.43 158.47h1.2v1.2h-1.2zM122.43 167.8h1.2v1.2h-1.2zM122.43 177.14h1.2v1.2h-1.2zM122.43 186.48h1.2v1.2h-1.2zM122.43 195.82h1.2v1.2h-1.2zM122.43 205.16h1.2v1.2h-1.2zM122.43 214.49h1.2v1.2h-1.2zM122.43 223.83h1.2v1.2h-1.2zM122.43 233.17h1.2v1.2h-1.2zM122.43 242.51h1.2v1.2h-1.2zM122.43 251.85h1.2v1.2h-1.2zM122.43 261.18h1.2v1.2h-1.2zM122.43 270.52h1.2v1.2h-1.2zM122.43 279.86h1.2v1.2h-1.2zM122.43 289.2h1.2v1.2h-1.2zM122.43 298.54h1.2v1.2h-1.2zM122.43 307.87h1.2v1.2h-1.2zM122.43 317.21h1.2v1.2h-1.2zM122.43 326.55h1.2v1.2h-1.2zM122.43 335.89h1.2v1.2h-1.2zM122.43 345.23h1.2v1.2h-1.2zM122.43 354.56h1.2v1.2h-1.2zM122.43 363.9h1.2v1.2h-1.2zM122.43 373.24h1.2v1.2h-1.2zM122.43 382.58h1.2v1.2h-1.2zM122.43 391.92h1.2v1.2h-1.2zM122.43 401.25h1.2v1.2h-1.2zM122.43 410.59h1.2v1.2h-1.2zM122.43 419.93h1.2v1.2h-1.2zM122.43 429.27h1.2v1.2h-1.2zM122.43 438.61h1.2v1.2h-1.2zM122.43 447.94h1.2v1.2h-1.2zM122.43 457.28h1.2v1.2h-1.2zM122.43 466.62h1.2v1.2h-1.2zM122.43 475.96h1.2v1.2h-1.2zM122.43 485.3h1.2v1.2h-1.2zM122.43 494.63h1.2v1.2h-1.2zM122.43 503.97h1.2v1.2h-1.2zM122.43 513.31h1.2v1.2h-1.2zM122.43 522.65h1.2v1.2h-1.2zM122.43 531.99h1.2v1.2h-1.2zM122.43 541.32h1.2v1.2h-1.2zM122.43 550.66h1.2v1.2h-1.2zM122.43 560h1.2v1.2h-1.2zM122.43 569.34h1.2v1.2h-1.2zM122.43 578.68h1.2v1.2h-1.2zM122.43 588.01h1.2v1.2h-1.2zM122.43 597.35h1.2v1.2h-1.2zM122.43 606.69h1.2v1.2h-1.2zM122.43 616.03h1.2v1.2h-1.2zM122.43 625.37h1.2v1.2h-1.2zM122.43 634.7h1.2v1.2h-1.2zM122.43 644.04h1.2v1.2h-1.2zM122.43 653.38h1.2v1.2h-1.2zM131.77 -0.28h1.2v1.2h-1.2zM131.77 93.1h1.2v1.2h-1.2zM131.77 186.48h1.2v1.2h-1.2zM131.77 279.86h1.2v1.2h-1.2zM131.77 373.24h1.2v1.2h-1.2zM131.77 466.62h1.2v1.2h-1.2zM131.77 560h1.2v1.2h-1.2zM131.77 653.38h1.2v1.2h-1.2zM141.12 -0.28h1.2v1.2h-1.2zM141.12 93.1h1.2v1.2h-1.2zM141.12 186.48h1.2v1.2h-1.2zM141.12 279.86h1.2v1.2h-1.2zM141.12 373.24h1.2v1.2h-1.2zM141.12 466.62h1.2v1.2h-1.2zM141.12 560h1.2v1.2h-1.2zM141.12 653.38h1.2v1.2h-1.2zM150.46 -0.28h1.2v1.2h-1.2zM150.46 93.1h1.2v1.2h-1.2zM150.46 186.48h1.2v1.2h-1.2zM150.46 279.86h1.2v1.2h-1.2zM150.46 373.24h1.2v1.2h-1.2zM150.46 466.62h1.2v1.2h-1.2zM150.46 560h1.2v1.2h-1.2zM150.46 653.38h1.2v1.2h-1.2zM159.8 -0.28h1.2v1.2h-1.2zM159.8 93.1h1.2v1.2h-1.2zM159.8 186.48h1.2v1.2h-1.2zM159.8 279.86h1.2v1.2h-1.2zM159.8 373.24h1.2v1.2h-1.2zM159.8 466.62h1.2v1.2h-1.2zM159.8 560h1.2v1.2h-1.2zM159.8 653.38h1.2v1.2h-1.2zM169.15 -0.28h1.2v1.2h-1.2zM169.15 93.1h1.2v1.2h-1.2zM169.15 186.48h1.2v1.2h-1.2zM169.15 279.86h1.2v1.2h-1.2zM169.15 373.24h1.2v1.2h-1.2zM169.15 466.62h1.2v1.2h-1.2zM169.15 560h1.2v1.2h-1.2zM169.15 653.38h1.2v1.2h-1.2zM178.49 -0.28h1.2v1.2h-1.2zM178.49 93.1h1.2v1.2h-1.2zM178.49 186.48h1.2v1.2h-1.2zM178.49 279.86h1.2v1.2h-1.2zM178.49 373.24h1.2v1.2h-1.2zM178.49 466.62h1.2v1.2h-1.2zM178.49 560h1.2v1.2h-1.2zM178.49 653.38h1.2v1.2h-1.2zM187.83 -0.28h1.2v1.2h-1.2zM187.83 93.1h1.2v1.2h-1.2zM187.83 186.48h1.2v1.2h-1.2zM187.83 279.86h1.2v1.2h-1.2zM187.83 373.24h1.2v1.2h-1.2zM187.83 466.62h1.2v1.2h-1.2zM187.83 560h1.2v1.2h-1.2zM187.83 653.38h1.2v1.2h-1.2zM197.17 -0.28h1.2v1.2h-1.2zM197.17 93.1h1.2v1.2h-1.2zM197.17 186.48h1.2v1.2h-1.2zM197.17 279.86h1.2v1.2h-1.2zM197.17 373.24h1.2v1.2h-1.2zM197.17 466.62h1.2v1.2h-1.2zM197.17 560h1.2v1.2h-1.2zM197.17 653.38h1.2v1.2h-1.2zM206.52 -0.28h1.2v1.2h-1.2zM206.52 93.1h1.2v1.2h-1.2zM206.52 186.48h1.2v1.2h-1.2zM206.52 279.86h1.2v1.2h-1.2zM206.52 373.24h1.2v1.2h-1.2zM206.52 466.62h1.2v1.2h-1.2zM206.52 560h1.2v1.2h-1.2zM206.52 653.38h1.2v1.2h-1.2zM215.86 -0.28h1.2v1.2h-1.2zM215.86 9.06h1.2v1.2h-1.2zM215.86 18.4h1.2v1.2h-1.2zM215.86 27.73h1.2v1.2h-1.2zM215.86 37.07h1.2v1.2h-1.2zM215.86 46.41h1.2v1.2h-1.2zM215.86 55.75h1.2v1.2h-1.2zM215.86 65.09h1.2v1.2h-1.2zM215.86 74.42h1.2v1.2h-1.2zM215.86 83.76h1.2v1.2h-1.2zM215.86 93.1h1.2v1.2h-1.2zM215.86 102.44h1.2v1.2h-1.2zM215.86 111.78h1.2v1.2h-1.2zM215.86 121.11h1.2v1.2h-1.2zM215.86 130.45h1.2v1.2h-1.2zM215.86 139.79h1.2v1.2h-1.2zM215.86 149.13h1.2v1.2h-1.2zM215.86 158.47h1.2v1.2h-1.2zM215.86 167.8h1.2v1.2h-1.2zM215.86 177.14h1.2v1.2h-1.2zM215.86 186.48h1.2v1.2h-1.2zM215.86 195.82h1.2v1.2h-1.2zM215.86 205.16h1.2v1.2h-1.2zM215.86 214.49h1.2v1.2h-1.2zM215.86 223.83h1.2v1.2h-1.2zM215.86 233.17h1.2v1.2h-1.2zM215.86 242.51h1.2v1.2h-1.2zM215.86 251.85h1.2v1.2h-1.2zM215.86 261.18h1.2v1.2h-1.2zM215.86 270.52h1.2v1.2h-1.2zM215.86 279.86h1.2v1.2h-1.2zM215.86 289.2h1.2v1.2h-1.2zM215.86 298.54h1.2v1.2h-1.2zM215.86 307.87h1.2v1.2h-1.2zM215.86 317.21h1.2v1.2h-1.2zM215.86 326.55h1.2v1.2h-1.2zM215.86 335.89h1.2v1.2h-1.2zM215.86 345.23h1.2v1.2h-1.2zM215.86 354.56h1.2v1.2h-1.2zM215.86 363.9h1.2v1.2h-1.2zM215.86 373.24h1.2v1.2h-1.2zM215.86 382.58h1.2v1.2h-1.2zM215.86 391.92h1.2v1.2h-1.2zM215.86 401.25h1.2v1.2h-1.2zM215.86 410.59h1.2v1.2h-1.2zM215.86 419.93h1.2v1.2h-1.2zM215.86 429.27h1.2v1.2h-1.2zM215.86 438.61h1.2v1.2h-1.2zM215.86 447.94h1.2v1.2h-1.2zM215.86 457.28h1.2v1.2h-1.2zM215.86 466.62h1.2v1.2h-1.2zM215.86 475.96h1.2v1.2h-1.2zM215.86 485.3h1.2v1.2h-1.2zM215.86 494.63h1.2v1.2h-1.2zM215.86 503.97h1.2v1.2h-1.2zM215.86 513.31h1.2v1.2h-1.2zM215.86 522.65h1.2v1.2h-1.2zM215.86 531.99h1.2v1.2h-1.2zM215.86 541.32h1.2v1.2h-1.2zM215.86 550.66h1.2v1.2h-1.2zM215.86 560h1.2v1.2h-1.2zM215.86 569.34h1.2v1.2h-1.2zM215.86 578.68h1.2v1.2h-1.2zM215.86 588.01h1.2v1.2h-1.2zM215.86 597.35h1.2v1.2h-1.2zM215.86 606.69h1.2v1.2h-1.2zM215.86 616.03h1.2v1.2h-1.2zM215.86 625.37h1.2v1.2h-1.2zM215.86 634.7h1.2v1.2h-1.2zM215.86 644.04h1.2v1.2h-1.2zM215.86 653.38h1.2v1.2h-1.2zM225.2 -0.28h1.2v1.2h-1.2zM225.2 93.1h1.2v1.2h-1.2zM225.2 186.48h1.2v1.2h-1.2zM225.2 279.86h1.2v1.2h-1.2zM225.2 373.24h1.2v1.2h-1.2zM225.2 466.62h1.2v1.2h-1.2zM225.2 560h1.2v1.2h-1.2zM225.2 653.38h1.2v1.2h-1.2zM234.55 -0.28h1.2v1.2h-1.2zM234.55 93.1h1.2v1.2h-1.2zM234.55 186.48h1.2v1.2h-1.2zM234.55 279.86h1.2v1.2h-1.2zM234.55 373.24h1.2v1.2h-1.2zM234.55 466.62h1.2v1.2h-1.2zM234.55 560h1.2v1.2h-1.2zM234.55 653.38h1.2v1.2h-1.2zM243.89 -0.28h1.2v1.2h-1.2zM243.89 93.1h1.2v1.2h-1.2zM243.89 186.48h1.2v1.2h-1.2zM243.89 279.86h1.2v1.2h-1.2zM243.89 373.24h1.2v1.2h-1.2zM243.89 466.62h1.2v1.2h-1.2zM243.89 560h1.2v1.2h-1.2zM243.89 653.38h1.2v1.2h-1.2zM253.23 -0.28h1.2v1.2h-1.2zM253.23 93.1h1.2v1.2h-1.2zM253.23 186.48h1.2v1.2h-1.2zM253.23 279.86h1.2v1.2h-1.2zM253.23 373.24h1.2v1.2h-1.2zM253.23 466.62h1.2v1.2h-1.2zM253.23 560h1.2v1.2h-1.2zM253.23 653.38h1.2v1.2h-1.2zM262.57 -0.28h1.2v1.2h-1.2zM262.57 93.1h1.2v1.2h-1.2zM262.57 186.48h1.2v1.2h-1.2zM262.57 279.86h1.2v1.2h-1.2zM262.57 373.24h1.2v1.2h-1.2zM262.57 466.62h1.2v1.2h-1.2zM262.57 560h1.2v1.2h-1.2zM262.57 653.38h1.2v1.2h-1.2zM271.92 -0.28h1.2v1.2h-1.2zM271.92 93.1h1.2v1.2h-1.2zM271.92 186.48h1.2v1.2h-1.2zM271.92 279.86h1.2v1.2h-1.2zM271.92 373.24h1.2v1.2h-1.2zM271.92 466.62h1.2v1.2h-1.2zM271.92 560h1.2v1.2h-1.2zM271.92 653.38h1.2v1.2h-1.2zM281.26 -0.28h1.2v1.2h-1.2zM281.26 93.1h1.2v1.2h-1.2zM281.26 186.48h1.2v1.2h-1.2zM281.26 279.86h1.2v1.2h-1.2zM281.26 373.24h1.2v1.2h-1.2zM281.26 466.62h1.2v1.2h-1.2zM281.26 560h1.2v1.2h-1.2zM281.26 653.38h1.2v1.2h-1.2zM290.6 -0.28h1.2v1.2h-1.2zM290.6 93.1h1.2v1.2h-1.2zM290.6 186.48h1.2v1.2h-1.2zM290.6 279.86h1.2v1.2h-1.2zM290.6 373.24h1.2v1.2h-1.2zM290.6 466.62h1.2v1.2h-1.2zM290.6 560h1.2v1.2h-1.2zM290.6 653.38h1.2v1.2h-1.2zM299.95 -0.28h1.2v1.2h-1.2zM299.95 93.1h1.2v1.2h-1.2zM299.95 186.48h1.2v1.2h-1.2zM299.95 279.86h1.2v1.2h-1.2zM299.95 373.24h1.2v1.2h-1.2zM299.95 466.62h1.2v1.2h-1.2zM299.95 560h1.2v1.2h-1.2zM299.95 653.38h1.2v1.2h-1.2zM309.29 -0.28h1.2v1.2h-1.2zM309.29 9.06h1.2v1.2h-1.2zM309.29 18.4h1.2v1.2h-1.2zM309.29 27.73h1.2v1.2h-1.2zM309.29 37.07h1.2v1.2h-1.2zM309.29 46.41h1.2v1.2h-1.2zM309.29 55.75h1.2v1.2h-1.2zM309.29 65.09h1.2v1.2h-1.2zM309.29 74.42h1.2v1.2h-1.2zM309.29 83.76h1.2v1.2h-1.2zM309.29 93.1h1.2v1.2h-1.2zM309.29 102.44h1.2v1.2h-1.2zM309.29 111.78h1.2v1.2h-1.2zM309.29 121.11h1.2v1.2h-1.2zM309.29 130.45h1.2v1.2h-1.2zM309.29 139.79h1.2v1.2h-1.2zM309.29 149.13h1.2v1.2h-1.2zM309.29 158.47h1.2v1.2h-1.2zM309.29 167.8h1.2v1.2h-1.2zM309.29 177.14h1.2v1.2h-1.2zM309.29 186.48h1.2v1.2h-1.2zM309.29 195.82h1.2v1.2h-1.2zM309.29 205.16h1.2v1.2h-1.2zM309.29 214.49h1.2v1.2h-1.2zM309.29 223.83h1.2v1.2h-1.2zM309.29 233.17h1.2v1.2h-1.2zM309.29 242.51h1.2v1.2h-1.2zM309.29 251.85h1.2v1.2h-1.2zM309.29 261.18h1.2v1.2h-1.2zM309.29 270.52h1.2v1.2h-1.2zM309.29 279.86h1.2v1.2h-1.2zM309.29 289.2h1.2v1.2h-1.2zM309.29 298.54h1.2v1.2h-1.2zM309.29 307.87h1.2v1.2h-1.2zM309.29 317.21h1.2v1.2h-1.2zM309.29 326.55h1.2v1.2h-1.2zM309.29 335.89h1.2v1.2h-1.2zM309.29 345.23h1.2v1.2h-1.2zM309.29 354.56h1.2v1.2h-1.2zM309.29 363.9h1.2v1.2h-1.2zM309.29 373.24h1.2v1.2h-1.2zM309.29 382.58h1.2v1.2h-1.2zM309.29 391.92h1.2v1.2h-1.2zM309.29 401.25h1.2v1.2h-1.2zM309.29 410.59h1.2v1.2h-1.2zM309.29 419.93h1.2v1.2h-1.2zM309.29 429.27h1.2v1.2h-1.2zM309.29 438.61h1.2v1.2h-1.2zM309.29 447.94h1.2v1.2h-1.2zM309.29 457.28h1.2v1.2h-1.2zM309.29 466.62h1.2v1.2h-1.2zM309.29 475.96h1.2v1.2h-1.2zM309.29 485.3h1.2v1.2h-1.2zM309.29 494.63h1.2v1.2h-1.2zM309.29 503.97h1.2v1.2h-1.2zM309.29 513.31h1.2v1.2h-1.2zM309.29 522.65h1.2v1.2h-1.2zM309.29 531.99h1.2v1.2h-1.2zM309.29 541.32h1.2v1.2h-1.2zM309.29 550.66h1.2v1.2h-1.2zM309.29 560h1.2v1.2h-1.2zM309.29 569.34h1.2v1.2h-1.2zM309.29 578.68h1.2v1.2h-1.2zM309.29 588.01h1.2v1.2h-1.2zM309.29 597.35h1.2v1.2h-1.2zM309.29 606.69h1.2v1.2h-1.2zM309.29 616.03h1.2v1.2h-1.2zM309.29 625.37h1.2v1.2h-1.2zM309.29 634.7h1.2v1.2h-1.2zM309.29 644.04h1.2v1.2h-1.2zM309.29 653.38h1.2v1.2h-1.2zM318.63 -0.28h1.2v1.2h-1.2zM318.63 93.1h1.2v1.2h-1.2zM318.63 186.48h1.2v1.2h-1.2zM318.63 279.86h1.2v1.2h-1.2zM318.63 373.24h1.2v1.2h-1.2zM318.63 466.62h1.2v1.2h-1.2zM318.63 560h1.2v1.2h-1.2zM318.63 653.38h1.2v1.2h-1.2zM327.98 -0.28h1.2v1.2h-1.2zM327.98 93.1h1.2v1.2h-1.2zM327.98 186.48h1.2v1.2h-1.2zM327.98 279.86h1.2v1.2h-1.2zM327.98 373.24h1.2v1.2h-1.2zM327.98 466.62h1.2v1.2h-1.2zM327.98 560h1.2v1.2h-1.2zM327.98 653.38h1.2v1.2h-1.2zM337.32 -0.28h1.2v1.2h-1.2zM337.32 93.1h1.2v1.2h-1.2zM337.32 186.48h1.2v1.2h-1.2zM337.32 279.86h1.2v1.2h-1.2zM337.32 373.24h1.2v1.2h-1.2zM337.32 466.62h1.2v1.2h-1.2zM337.32 560h1.2v1.2h-1.2zM337.32 653.38h1.2v1.2h-1.2zM346.66 -0.28h1.2v1.2h-1.2zM346.66 93.1h1.2v1.2h-1.2zM346.66 186.48h1.2v1.2h-1.2zM346.66 279.86h1.2v1.2h-1.2zM346.66 373.24h1.2v1.2h-1.2zM346.66 466.62h1.2v1.2h-1.2zM346.66 560h1.2v1.2h-1.2zM346.66 653.38h1.2v1.2h-1.2zM356 -0.28h1.2v1.2h-1.2zM356 93.1h1.2v1.2h-1.2zM356 186.48h1.2v1.2h-1.2zM356 279.86h1.2v1.2h-1.2zM356 373.24h1.2v1.2h-1.2zM356 466.62h1.2v1.2h-1.2zM356 560h1.2v1.2h-1.2zM356 653.38h1.2v1.2h-1.2zM365.35 -0.28h1.2v1.2h-1.2zM365.35 93.1h1.2v1.2h-1.2zM365.35 186.48h1.2v1.2h-1.2zM365.35 279.86h1.2v1.2h-1.2zM365.35 373.24h1.2v1.2h-1.2zM365.35 466.62h1.2v1.2h-1.2zM365.35 560h1.2v1.2h-1.2zM365.35 653.38h1.2v1.2h-1.2zM374.69 -0.28h1.2v1.2h-1.2zM374.69 93.1h1.2v1.2h-1.2zM374.69 186.48h1.2v1.2h-1.2zM374.69 279.86h1.2v1.2h-1.2zM374.69 373.24h1.2v1.2h-1.2zM374.69 466.62h1.2v1.2h-1.2zM374.69 560h1.2v1.2h-1.2zM374.69 653.38h1.2v1.2h-1.2zM384.03 -0.28h1.2v1.2h-1.2zM384.03 93.1h1.2v1.2h-1.2zM384.03 186.48h1.2v1.2h-1.2zM384.03 279.86h1.2v1.2h-1.2zM384.03 373.24h1.2v1.2h-1.2zM384.03 466.62h1.2v1.2h-1.2zM384.03 560h1.2v1.2h-1.2zM384.03 653.38h1.2v1.2h-1.2zM393.38 -0.28h1.2v1.2h-1.2zM393.38 93.1h1.2v1.2h-1.2zM393.38 186.48h1.2v1.2h-1.2zM393.38 279.86h1.2v1.2h-1.2zM393.38 373.24h1.2v1.2h-1.2zM393.38 466.62h1.2v1.2h-1.2zM393.38 560h1.2v1.2h-1.2zM393.38 653.38h1.2v1.2h-1.2zM402.72 -0.28h1.2v1.2h-1.2zM402.72 9.06h1.2v1.2h-1.2zM402.72 18.4h1.2v1.2h-1.2zM402.72 27.73h1.2v1.2h-1.2zM402.72 37.07h1.2v1.2h-1.2zM402.72 46.41h1.2v1.2h-1.2zM402.72 55.75h1.2v1.2h-1.2zM402.72 65.09h1.2v1.2h-1.2zM402.72 74.42h1.2v1.2h-1.2zM402.72 83.76h1.2v1.2h-1.2zM402.72 93.1h1.2v1.2h-1.2zM402.72 102.44h1.2v1.2h-1.2zM402.72 111.78h1.2v1.2h-1.2zM402.72 121.11h1.2v1.2h-1.2zM402.72 130.45h1.2v1.2h-1.2zM402.72 139.79h1.2v1.2h-1.2zM402.72 149.13h1.2v1.2h-1.2zM402.72 158.47h1.2v1.2h-1.2zM402.72 167.8h1.2v1.2h-1.2zM402.72 177.14h1.2v1.2h-1.2zM402.72 186.48h1.2v1.2h-1.2zM402.72 195.82h1.2v1.2h-1.2zM402.72 205.16h1.2v1.2h-1.2zM402.72 214.49h1.2v1.2h-1.2zM402.72 223.83h1.2v1.2h-1.2zM402.72 233.17h1.2v1.2h-1.2zM402.72 242.51h1.2v1.2h-1.2zM402.72 251.85h1.2v1.2h-1.2zM402.72 261.18h1.2v1.2h-1.2zM402.72 270.52h1.2v1.2h-1.2zM402.72 279.86h1.2v1.2h-1.2zM402.72 289.2h1.2v1.2h-1.2zM402.72 298.54h1.2v1.2h-1.2zM402.72 307.87h1.2v1.2h-1.2zM402.72 317.21h1.2v1.2h-1.2zM402.72 326.55h1.2v1.2h-1.2zM402.72 335.89h1.2v1.2h-1.2zM402.72 345.23h1.2v1.2h-1.2zM402.72 354.56h1.2v1.2h-1.2zM402.72 363.9h1.2v1.2h-1.2zM402.72 373.24h1.2v1.2h-1.2zM402.72 382.58h1.2v1.2h-1.2zM402.72 391.92h1.2v1.2h-1.2zM402.72 401.25h1.2v1.2h-1.2zM402.72 410.59h1.2v1.2h-1.2zM402.72 419.93h1.2v1.2h-1.2zM402.72 429.27h1.2v1.2h-1.2zM402.72 438.61h1.2v1.2h-1.2zM402.72 447.94h1.2v1.2h-1.2zM402.72 457.28h1.2v1.2h-1.2zM402.72 466.62h1.2v1.2h-1.2zM402.72 475.96h1.2v1.2h-1.2zM402.72 485.3h1.2v1.2h-1.2zM402.72 494.63h1.2v1.2h-1.2zM402.72 503.97h1.2v1.2h-1.2zM402.72 513.31h1.2v1.2h-1.2zM402.72 522.65h1.2v1.2h-1.2zM402.72 531.99h1.2v1.2h-1.2zM402.72 541.32h1.2v1.2h-1.2zM402.72 550.66h1.2v1.2h-1.2zM402.72 560h1.2v1.2h-1.2zM402.72 569.34h1.2v1.2h-1.2zM402.72 578.68h1.2v1.2h-1.2zM402.72 588.01h1.2v1.2h-1.2zM402.72 597.35h1.2v1.2h-1.2zM402.72 606.69h1.2v1.2h-1.2zM402.72 616.03h1.2v1.2h-1.2zM402.72 625.37h1.2v1.2h-1.2zM402.72 634.7h1.2v1.2h-1.2zM402.72 644.04h1.2v1.2h-1.2zM402.72 653.38h1.2v1.2h-1.2zM412.06 -0.28h1.2v1.2h-1.2zM412.06 93.1h1.2v1.2h-1.2zM412.06 186.48h1.2v1.2h-1.2zM412.06 279.86h1.2v1.2h-1.2zM412.06 373.24h1.2v1.2h-1.2zM412.06 466.62h1.2v1.2h-1.2zM412.06 560h1.2v1.2h-1.2zM412.06 653.38h1.2v1.2h-1.2zM421.41 -0.28h1.2v1.2h-1.2zM421.41 93.1h1.2v1.2h-1.2zM421.41 186.48h1.2v1.2h-1.2zM421.41 279.86h1.2v1.2h-1.2zM421.41 373.24h1.2v1.2h-1.2zM421.41 466.62h1.2v1.2h-1.2zM421.41 560h1.2v1.2h-1.2zM421.41 653.38h1.2v1.2h-1.2zM430.75 -0.28h1.2v1.2h-1.2zM430.75 93.1h1.2v1.2h-1.2zM430.75 186.48h1.2v1.2h-1.2zM430.75 279.86h1.2v1.2h-1.2zM430.75 373.24h1.2v1.2h-1.2zM430.75 466.62h1.2v1.2h-1.2zM430.75 560h1.2v1.2h-1.2zM430.75 653.38h1.2v1.2h-1.2zM440.09 -0.28h1.2v1.2h-1.2zM440.09 93.1h1.2v1.2h-1.2zM440.09 186.48h1.2v1.2h-1.2zM440.09 279.86h1.2v1.2h-1.2zM440.09 373.24h1.2v1.2h-1.2zM440.09 466.62h1.2v1.2h-1.2zM440.09 560h1.2v1.2h-1.2zM440.09 653.38h1.2v1.2h-1.2zM449.44 -0.28h1.2v1.2h-1.2zM449.44 93.1h1.2v1.2h-1.2zM449.44 186.48h1.2v1.2h-1.2zM449.44 279.86h1.2v1.2h-1.2zM449.44 373.24h1.2v1.2h-1.2zM449.44 466.62h1.2v1.2h-1.2zM449.44 560h1.2v1.2h-1.2zM449.44 653.38h1.2v1.2h-1.2zM458.78 -0.28h1.2v1.2h-1.2zM458.78 93.1h1.2v1.2h-1.2zM458.78 186.48h1.2v1.2h-1.2zM458.78 279.86h1.2v1.2h-1.2zM458.78 373.24h1.2v1.2h-1.2zM458.78 466.62h1.2v1.2h-1.2zM458.78 560h1.2v1.2h-1.2zM458.78 653.38h1.2v1.2h-1.2zM468.12 -0.28h1.2v1.2h-1.2zM468.12 93.1h1.2v1.2h-1.2zM468.12 186.48h1.2v1.2h-1.2zM468.12 279.86h1.2v1.2h-1.2zM468.12 373.24h1.2v1.2h-1.2zM468.12 466.62h1.2v1.2h-1.2zM468.12 560h1.2v1.2h-1.2zM468.12 653.38h1.2v1.2h-1.2zM477.46 -0.28h1.2v1.2h-1.2zM477.46 93.1h1.2v1.2h-1.2zM477.46 186.48h1.2v1.2h-1.2zM477.46 279.86h1.2v1.2h-1.2zM477.46 373.24h1.2v1.2h-1.2zM477.46 466.62h1.2v1.2h-1.2zM477.46 560h1.2v1.2h-1.2zM477.46 653.38h1.2v1.2h-1.2zM486.81 -0.28h1.2v1.2h-1.2zM486.81 93.1h1.2v1.2h-1.2zM486.81 186.48h1.2v1.2h-1.2zM486.81 279.86h1.2v1.2h-1.2zM486.81 373.24h1.2v1.2h-1.2zM486.81 466.62h1.2v1.2h-1.2zM486.81 560h1.2v1.2h-1.2zM486.81 653.38h1.2v1.2h-1.2zM496.15 -0.28h1.2v1.2h-1.2zM496.15 9.06h1.2v1.2h-1.2zM496.15 18.4h1.2v1.2h-1.2zM496.15 27.73h1.2v1.2h-1.2zM496.15 37.07h1.2v1.2h-1.2zM496.15 46.41h1.2v1.2h-1.2zM496.15 55.75h1.2v1.2h-1.2zM496.15 65.09h1.2v1.2h-1.2zM496.15 74.42h1.2v1.2h-1.2zM496.15 83.76h1.2v1.2h-1.2zM496.15 93.1h1.2v1.2h-1.2zM496.15 102.44h1.2v1.2h-1.2zM496.15 111.78h1.2v1.2h-1.2zM496.15 121.11h1.2v1.2h-1.2zM496.15 130.45h1.2v1.2h-1.2zM496.15 139.79h1.2v1.2h-1.2zM496.15 149.13h1.2v1.2h-1.2zM496.15 158.47h1.2v1.2h-1.2zM496.15 167.8h1.2v1.2h-1.2zM496.15 177.14h1.2v1.2h-1.2zM496.15 186.48h1.2v1.2h-1.2zM496.15 195.82h1.2v1.2h-1.2zM496.15 205.16h1.2v1.2h-1.2zM496.15 214.49h1.2v1.2h-1.2zM496.15 223.83h1.2v1.2h-1.2zM496.15 233.17h1.2v1.2h-1.2zM496.15 242.51h1.2v1.2h-1.2zM496.15 251.85h1.2v1.2h-1.2zM496.15 261.18h1.2v1.2h-1.2zM496.15 270.52h1.2v1.2h-1.2zM496.15 279.86h1.2v1.2h-1.2zM496.15 289.2h1.2v1.2h-1.2zM496.15 298.54h1.2v1.2h-1.2zM496.15 307.87h1.2v1.2h-1.2zM496.15 317.21h1.2v1.2h-1.2zM496.15 326.55h1.2v1.2h-1.2zM496.15 335.89h1.2v1.2h-1.2zM496.15 345.23h1.2v1.2h-1.2zM496.15 354.56h1.2v1.2h-1.2zM496.15 363.9h1.2v1.2h-1.2zM496.15 373.24h1.2v1.2h-1.2zM496.15 382.58h1.2v1.2h-1.2zM496.15 391.92h1.2v1.2h-1.2zM496.15 401.25h1.2v1.2h-1.2zM496.15 410.59h1.2v1.2h-1.2zM496.15 419.93h1.2v1.2h-1.2zM496.15 429.27h1.2v1.2h-1.2zM496.15 438.61h1.2v1.2h-1.2zM496.15 447.94h1.2v1.2h-1.2zM496.15 457.28h1.2v1.2h-1.2zM496.15 466.62h1.2v1.2h-1.2zM496.15 475.96h1.2v1.2h-1.2zM496.15 485.3h1.2v1.2h-1.2zM496.15 494.63h1.2v1.2h-1.2zM496.15 503.97h1.2v1.2h-1.2zM496.15 513.31h1.2v1.2h-1.2zM496.15 522.65h1.2v1.2h-1.2zM496.15 531.99h1.2v1.2h-1.2zM496.15 541.32h1.2v1.2h-1.2zM496.15 550.66h1.2v1.2h-1.2zM496.15 560h1.2v1.2h-1.2zM496.15 569.34h1.2v1.2h-1.2zM496.15 578.68h1.2v1.2h-1.2zM496.15 588.01h1.2v1.2h-1.2zM496.15 597.35h1.2v1.2h-1.2zM496.15 606.69h1.2v1.2h-1.2zM496.15 616.03h1.2v1.2h-1.2zM496.15 625.37h1.2v1.2h-1.2zM496.15 634.7h1.2v1.2h-1.2zM496.15 644.04h1.2v1.2h-1.2zM496.15 653.38h1.2v1.2h-1.2zM505.49 -0.28h1.2v1.2h-1.2zM505.49 93.1h1.2v1.2h-1.2zM505.49 186.48h1.2v1.2h-1.2zM505.49 279.86h1.2v1.2h-1.2zM505.49 373.24h1.2v1.2h-1.2zM505.49 466.62h1.2v1.2h-1.2zM505.49 560h1.2v1.2h-1.2zM505.49 653.38h1.2v1.2h-1.2zM514.84 -0.28h1.2v1.2h-1.2zM514.84 93.1h1.2v1.2h-1.2zM514.84 186.48h1.2v1.2h-1.2zM514.84 279.86h1.2v1.2h-1.2zM514.84 373.24h1.2v1.2h-1.2zM514.84 466.62h1.2v1.2h-1.2zM514.84 560h1.2v1.2h-1.2zM514.84 653.38h1.2v1.2h-1.2zM524.18 -0.28h1.2v1.2h-1.2zM524.18 93.1h1.2v1.2h-1.2zM524.18 186.48h1.2v1.2h-1.2zM524.18 279.86h1.2v1.2h-1.2zM524.18 373.24h1.2v1.2h-1.2zM524.18 466.62h1.2v1.2h-1.2zM524.18 560h1.2v1.2h-1.2zM524.18 653.38h1.2v1.2h-1.2zM533.52 -0.28h1.2v1.2h-1.2zM533.52 93.1h1.2v1.2h-1.2zM533.52 186.48h1.2v1.2h-1.2zM533.52 279.86h1.2v1.2h-1.2zM533.52 373.24h1.2v1.2h-1.2zM533.52 466.62h1.2v1.2h-1.2zM533.52 560h1.2v1.2h-1.2zM533.52 653.38h1.2v1.2h-1.2zM542.87 -0.28h1.2v1.2h-1.2zM542.87 93.1h1.2v1.2h-1.2zM542.87 186.48h1.2v1.2h-1.2zM542.87 279.86h1.2v1.2h-1.2zM542.87 373.24h1.2v1.2h-1.2zM542.87 466.62h1.2v1.2h-1.2zM542.87 560h1.2v1.2h-1.2zM542.87 653.38h1.2v1.2h-1.2zM552.21 -0.28h1.2v1.2h-1.2zM552.21 93.1h1.2v1.2h-1.2zM552.21 186.48h1.2v1.2h-1.2zM552.21 279.86h1.2v1.2h-1.2zM552.21 373.24h1.2v1.2h-1.2zM552.21 466.62h1.2v1.2h-1.2zM552.21 560h1.2v1.2h-1.2zM552.21 653.38h1.2v1.2h-1.2zM561.55 -0.28h1.2v1.2h-1.2zM561.55 93.1h1.2v1.2h-1.2zM561.55 186.48h1.2v1.2h-1.2zM561.55 279.86h1.2v1.2h-1.2zM561.55 373.24h1.2v1.2h-1.2zM561.55 466.62h1.2v1.2h-1.2zM561.55 560h1.2v1.2h-1.2zM561.55 653.38h1.2v1.2h-1.2zM570.89 -0.28h1.2v1.2h-1.2zM570.89 93.1h1.2v1.2h-1.2zM570.89 186.48h1.2v1.2h-1.2zM570.89 279.86h1.2v1.2h-1.2zM570.89 373.24h1.2v1.2h-1.2zM570.89 466.62h1.2v1.2h-1.2zM570.89 560h1.2v1.2h-1.2zM570.89 653.38h1.2v1.2h-1.2zM580.24 -0.28h1.2v1.2h-1.2zM580.24 93.1h1.2v1.2h-1.2zM580.24 186.48h1.2v1.2h-1.2zM580.24 279.86h1.2v1.2h-1.2zM580.24 373.24h1.2v1.2h-1.2zM580.24 466.62h1.2v1.2h-1.2zM580.24 560h1.2v1.2h-1.2zM580.24 653.38h1.2v1.2h-1.2zM589.58 -0.28h1.2v1.2h-1.2zM589.58 9.06h1.2v1.2h-1.2zM589.58 18.4h1.2v1.2h-1.2zM589.58 27.73h1.2v1.2h-1.2zM589.58 37.07h1.2v1.2h-1.2zM589.58 46.41h1.2v1.2h-1.2zM589.58 55.75h1.2v1.2h-1.2zM589.58 65.09h1.2v1.2h-1.2zM589.58 74.42h1.2v1.2h-1.2zM589.58 83.76h1.2v1.2h-1.2zM589.58 93.1h1.2v1.2h-1.2zM589.58 102.44h1.2v1.2h-1.2zM589.58 111.78h1.2v1.2h-1.2zM589.58 121.11h1.2v1.2h-1.2zM589.58 130.45h1.2v1.2h-1.2zM589.58 139.79h1.2v1.2h-1.2zM589.58 149.13h1.2v1.2h-1.2zM589.58 158.47h1.2v1.2h-1.2zM589.58 167.8h1.2v1.2h-1.2zM589.58 177.14h1.2v1.2h-1.2zM589.58 186.48h1.2v1.2h-1.2zM589.58 195.82h1.2v1.2h-1.2zM589.58 205.16h1.2v1.2h-1.2zM589.58 214.49h1.2v1.2h-1.2zM589.58 223.83h1.2v1.2h-1.2zM589.58 233.17h1.2v1.2h-1.2zM589.58 242.51h1.2v1.2h-1.2zM589.58 251.85h1.2v1.2h-1.2zM589.58 261.18h1.2v1.2h-1.2zM589.58 270.52h1.2v1.2h-1.2zM589.58 279.86h1.2v1.2h-1.2zM589.58 289.2h1.2v1.2h-1.2zM589.58 298.54h1.2v1.2h-1.2zM589.58 307.87h1.2v1.2h-1.2zM589.58 317.21h1.2v1.2h-1.2zM589.58 326.55h1.2v1.2h-1.2zM589.58 335.89h1.2v1.2h-1.2zM589.58 345.23h1.2v1.2h-1.2zM589.58 354.56h1.2v1.2h-1.2zM589.58 363.9h1.2v1.2h-1.2zM589.58 373.24h1.2v1.2h-1.2zM589.58 382.58h1.2v1.2h-1.2zM589.58 391.92h1.2v1.2h-1.2zM589.58 401.25h1.2v1.2h-1.2zM589.58 410.59h1.2v1.2h-1.2zM589.58 419.93h1.2v1.2h-1.2zM589.58 429.27h1.2v1.2h-1.2zM589.58 438.61h1.2v1.2h-1.2zM589.58 447.94h1.2v1.2h-1.2zM589.58 457.28h1.2v1.2h-1.2zM589.58 466.62h1.2v1.2h-1.2zM589.58 475.96h1.2v1.2h-1.2zM589.58 485.3h1.2v1.2h-1.2zM589.58 494.63h1.2v1.2h-1.2zM589.58 503.97h1.2v1.2h-1.2zM589.58 513.31h1.2v1.2h-1.2zM589.58 522.65h1.2v1.2h-1.2zM589.58 531.99h1.2v1.2h-1.2zM589.58 541.32h1.2v1.2h-1.2zM589.58 550.66h1.2v1.2h-1.2zM589.58 560h1.2v1.2h-1.2zM589.58 569.34h1.2v1.2h-1.2zM589.58 578.68h1.2v1.2h-1.2zM589.58 588.01h1.2v1.2h-1.2zM589.58 597.35h1.2v1.2h-1.2zM589.58 606.69h1.2v1.2h-1.2zM589.58 616.03h1.2v1.2h-1.2zM589.58 625.37h1.2v1.2h-1.2zM589.58 634.7h1.2v1.2h-1.2zM589.58 644.04h1.2v1.2h-1.2zM589.58 653.38h1.2v1.2h-1.2zM598.92 -0.28h1.2v1.2h-1.2zM598.92 93.1h1.2v1.2h-1.2zM598.92 186.48h1.2v1.2h-1.2zM598.92 279.86h1.2v1.2h-1.2zM598.92 373.24h1.2v1.2h-1.2zM598.92 466.62h1.2v1.2h-1.2zM598.92 560h1.2v1.2h-1.2zM598.92 653.38h1.2v1.2h-1.2zM608.27 -0.28h1.2v1.2h-1.2zM608.27 93.1h1.2v1.2h-1.2zM608.27 186.48h1.2v1.2h-1.2zM608.27 279.86h1.2v1.2h-1.2zM608.27 373.24h1.2v1.2h-1.2zM608.27 466.62h1.2v1.2h-1.2zM608.27 560h1.2v1.2h-1.2zM608.27 653.38h1.2v1.2h-1.2zM617.61 -0.28h1.2v1.2h-1.2zM617.61 93.1h1.2v1.2h-1.2zM617.61 186.48h1.2v1.2h-1.2zM617.61 279.86h1.2v1.2h-1.2zM617.61 373.24h1.2v1.2h-1.2zM617.61 466.62h1.2v1.2h-1.2zM617.61 560h1.2v1.2h-1.2zM617.61 653.38h1.2v1.2h-1.2zM626.95 -0.28h1.2v1.2h-1.2zM626.95 93.1h1.2v1.2h-1.2zM626.95 186.48h1.2v1.2h-1.2zM626.95 279.86h1.2v1.2h-1.2zM626.95 373.24h1.2v1.2h-1.2zM626.95 466.62h1.2v1.2h-1.2zM626.95 560h1.2v1.2h-1.2zM626.95 653.38h1.2v1.2h-1.2zM636.29 -0.28h1.2v1.2h-1.2zM636.29 93.1h1.2v1.2h-1.2zM636.29 186.48h1.2v1.2h-1.2zM636.29 279.86h1.2v1.2h-1.2zM636.29 373.24h1.2v1.2h-1.2zM636.29 466.62h1.2v1.2h-1.2zM636.29 560h1.2v1.2h-1.2zM636.29 653.38h1.2v1.2h-1.2zM645.64 -0.28h1.2v1.2h-1.2zM645.64 93.1h1.2v1.2h-1.2zM645.64 186.48h1.2v1.2h-1.2zM645.64 279.86h1.2v1.2h-1.2zM645.64 373.24h1.2v1.2h-1.2zM645.64 466.62h1.2v1.2h-1.2zM645.64 560h1.2v1.2h-1.2zM645.64 653.38h1.2v1.2h-1.2zM654.98 -0.28h1.2v1.2h-1.2zM654.98 93.1h1.2v1.2h-1.2zM654.98 186.48h1.2v1.2h-1.2zM654.98 279.86h1.2v1.2h-1.2zM654.98 373.24h1.2v1.2h-1.2zM654.98 466.62h1.2v1.2h-1.2zM654.98 560h1.2v1.2h-1.2zM654.98 653.38h1.2v1.2h-1.2zM664.32 -0.28h1.2v1.2h-1.2zM664.32 93.1h1.2v1.2h-1.2zM664.32 186.48h1.2v1.2h-1.2zM664.32 279.86h1.2v1.2h-1.2zM664.32 373.24h1.2v1.2h-1.2zM664.32 466.62h1.2v1.2h-1.2zM664.32 560h1.2v1.2h-1.2zM664.32 653.38h1.2v1.2h-1.2zM673.67 -0.28h1.2v1.2h-1.2zM673.67 93.1h1.2v1.2h-1.2zM673.67 186.48h1.2v1.2h-1.2zM673.67 279.86h1.2v1.2h-1.2zM673.67 373.24h1.2v1.2h-1.2zM673.67 466.62h1.2v1.2h-1.2zM673.67 560h1.2v1.2h-1.2zM673.67 653.38h1.2v1.2h-1.2zM683.01 -0.28h1.2v1.2h-1.2zM683.01 9.06h1.2v1.2h-1.2zM683.01 18.4h1.2v1.2h-1.2zM683.01 27.73h1.2v1.2h-1.2zM683.01 37.07h1.2v1.2h-1.2zM683.01 46.41h1.2v1.2h-1.2zM683.01 55.75h1.2v1.2h-1.2zM683.01 65.09h1.2v1.2h-1.2zM683.01 74.42h1.2v1.2h-1.2zM683.01 83.76h1.2v1.2h-1.2zM683.01 93.1h1.2v1.2h-1.2zM683.01 102.44h1.2v1.2h-1.2zM683.01 111.78h1.2v1.2h-1.2zM683.01 121.11h1.2v1.2h-1.2zM683.01 130.45h1.2v1.2h-1.2zM683.01 139.79h1.2v1.2h-1.2zM683.01 149.13h1.2v1.2h-1.2zM683.01 158.47h1.2v1.2h-1.2zM683.01 167.8h1.2v1.2h-1.2zM683.01 177.14h1.2v1.2h-1.2zM683.01 186.48h1.2v1.2h-1.2zM683.01 195.82h1.2v1.2h-1.2zM683.01 205.16h1.2v1.2h-1.2zM683.01 214.49h1.2v1.2h-1.2zM683.01 223.83h1.2v1.2h-1.2zM683.01 233.17h1.2v1.2h-1.2zM683.01 242.51h1.2v1.2h-1.2zM683.01 251.85h1.2v1.2h-1.2zM683.01 261.18h1.2v1.2h-1.2zM683.01 270.52h1.2v1.2h-1.2zM683.01 279.86h1.2v1.2h-1.2zM683.01 289.2h1.2v1.2h-1.2zM683.01 298.54h1.2v1.2h-1.2zM683.01 307.87h1.2v1.2h-1.2zM683.01 317.21h1.2v1.2h-1.2zM683.01 326.55h1.2v1.2h-1.2zM683.01 335.89h1.2v1.2h-1.2zM683.01 345.23h1.2v1.2h-1.2zM683.01 354.56h1.2v1.2h-1.2zM683.01 363.9h1.2v1.2h-1.2zM683.01 373.24h1.2v1.2h-1.2zM683.01 382.58h1.2v1.2h-1.2zM683.01 391.92h1.2v1.2h-1.2zM683.01 401.25h1.2v1.2h-1.2zM683.01 410.59h1.2v1.2h-1.2zM683.01 419.93h1.2v1.2h-1.2zM683.01 429.27h1.2v1.2h-1.2zM683.01 438.61h1.2v1.2h-1.2zM683.01 447.94h1.2v1.2h-1.2zM683.01 457.28h1.2v1.2h-1.2zM683.01 466.62h1.2v1.2h-1.2zM683.01 475.96h1.2v1.2h-1.2zM683.01 485.3h1.2v1.2h-1.2zM683.01 494.63h1.2v1.2h-1.2zM683.01 503.97h1.2v1.2h-1.2zM683.01 513.31h1.2v1.2h-1.2zM683.01 522.65h1.2v1.2h-1.2zM683.01 531.99h1.2v1.2h-1.2zM683.01 541.32h1.2v1.2h-1.2zM683.01 550.66h1.2v1.2h-1.2zM683.01 560h1.2v1.2h-1.2zM683.01 569.34h1.2v1.2h-1.2zM683.01 578.68h1.2v1.2h-1.2zM683.01 588.01h1.2v1.2h-1.2zM683.01 597.35h1.2v1.2h-1.2zM683.01 606.69h1.2v1.2h-1.2zM683.01 616.03h1.2v1.2h-1.2zM683.01 625.37h1.2v1.2h-1.2zM683.01 634.7h1.2v1.2h-1.2zM683.01 644.04h1.2v1.2h-1.2zM683.01 653.38h1.2v1.2h-1.2zM692.35 -0.28h1.2v1.2h-1.2zM692.35 93.1h1.2v1.2h-1.2zM692.35 186.48h1.2v1.2h-1.2zM692.35 279.86h1.2v1.2h-1.2zM692.35 373.24h1.2v1.2h-1.2zM692.35 466.62h1.2v1.2h-1.2zM692.35 560h1.2v1.2h-1.2zM692.35 653.38h1.2v1.2h-1.2zM701.7 -0.28h1.2v1.2h-1.2zM701.7 93.1h1.2v1.2h-1.2zM701.7 186.48h1.2v1.2h-1.2zM701.7 279.86h1.2v1.2h-1.2zM701.7 373.24h1.2v1.2h-1.2zM701.7 466.62h1.2v1.2h-1.2zM701.7 560h1.2v1.2h-1.2zM701.7 653.38h1.2v1.2h-1.2zM711.04 -0.28h1.2v1.2h-1.2zM711.04 93.1h1.2v1.2h-1.2zM711.04 186.48h1.2v1.2h-1.2zM711.04 279.86h1.2v1.2h-1.2zM711.04 373.24h1.2v1.2h-1.2zM711.04 466.62h1.2v1.2h-1.2zM711.04 560h1.2v1.2h-1.2zM711.04 653.38h1.2v1.2h-1.2zM720.38 -0.28h1.2v1.2h-1.2zM720.38 93.1h1.2v1.2h-1.2zM720.38 186.48h1.2v1.2h-1.2zM720.38 279.86h1.2v1.2h-1.2zM720.38 373.24h1.2v1.2h-1.2zM720.38 466.62h1.2v1.2h-1.2zM720.38 560h1.2v1.2h-1.2zM720.38 653.38h1.2v1.2h-1.2zM729.73 -0.28h1.2v1.2h-1.2zM729.73 93.1h1.2v1.2h-1.2zM729.73 186.48h1.2v1.2h-1.2zM729.73 279.86h1.2v1.2h-1.2zM729.73 373.24h1.2v1.2h-1.2zM729.73 466.62h1.2v1.2h-1.2zM729.73 560h1.2v1.2h-1.2zM729.73 653.38h1.2v1.2h-1.2zM739.07 -0.28h1.2v1.2h-1.2zM739.07 93.1h1.2v1.2h-1.2zM739.07 186.48h1.2v1.2h-1.2zM739.07 279.86h1.2v1.2h-1.2zM739.07 373.24h1.2v1.2h-1.2zM739.07 466.62h1.2v1.2h-1.2zM739.07 560h1.2v1.2h-1.2zM739.07 653.38h1.2v1.2h-1.2zM748.41 -0.28h1.2v1.2h-1.2zM748.41 93.1h1.2v1.2h-1.2zM748.41 186.48h1.2v1.2h-1.2zM748.41 279.86h1.2v1.2h-1.2zM748.41 373.24h1.2v1.2h-1.2zM748.41 466.62h1.2v1.2h-1.2zM748.41 560h1.2v1.2h-1.2zM748.41 653.38h1.2v1.2h-1.2zM757.75 -0.28h1.2v1.2h-1.2zM757.75 93.1h1.2v1.2h-1.2zM757.75 186.48h1.2v1.2h-1.2zM757.75 279.86h1.2v1.2h-1.2zM757.75 373.24h1.2v1.2h-1.2zM757.75 466.62h1.2v1.2h-1.2zM757.75 560h1.2v1.2h-1.2zM757.75 653.38h1.2v1.2h-1.2zM767.1 -0.28h1.2v1.2h-1.2zM767.1 93.1h1.2v1.2h-1.2zM767.1 186.48h1.2v1.2h-1.2zM767.1 279.86h1.2v1.2h-1.2zM767.1 373.24h1.2v1.2h-1.2zM767.1 466.62h1.2v1.2h-1.2zM767.1 560h1.2v1.2h-1.2zM767.1 653.38h1.2v1.2h-1.2zM776.44 -0.28h1.2v1.2h-1.2zM776.44 9.06h1.2v1.2h-1.2zM776.44 18.4h1.2v1.2h-1.2zM776.44 27.73h1.2v1.2h-1.2zM776.44 37.07h1.2v1.2h-1.2zM776.44 46.41h1.2v1.2h-1.2zM776.44 55.75h1.2v1.2h-1.2zM776.44 65.09h1.2v1.2h-1.2zM776.44 74.42h1.2v1.2h-1.2zM776.44 83.76h1.2v1.2h-1.2zM776.44 93.1h1.2v1.2h-1.2zM776.44 102.44h1.2v1.2h-1.2zM776.44 111.78h1.2v1.2h-1.2zM776.44 121.11h1.2v1.2h-1.2zM776.44 130.45h1.2v1.2h-1.2zM776.44 139.79h1.2v1.2h-1.2zM776.44 149.13h1.2v1.2h-1.2zM776.44 158.47h1.2v1.2h-1.2zM776.44 167.8h1.2v1.2h-1.2zM776.44 177.14h1.2v1.2h-1.2zM776.44 186.48h1.2v1.2h-1.2zM776.44 195.82h1.2v1.2h-1.2zM776.44 205.16h1.2v1.2h-1.2zM776.44 214.49h1.2v1.2h-1.2zM776.44 223.83h1.2v1.2h-1.2zM776.44 233.17h1.2v1.2h-1.2zM776.44 242.51h1.2v1.2h-1.2zM776.44 251.85h1.2v1.2h-1.2zM776.44 261.18h1.2v1.2h-1.2zM776.44 270.52h1.2v1.2h-1.2zM776.44 279.86h1.2v1.2h-1.2zM776.44 289.2h1.2v1.2h-1.2zM776.44 298.54h1.2v1.2h-1.2zM776.44 307.87h1.2v1.2h-1.2zM776.44 317.21h1.2v1.2h-1.2zM776.44 326.55h1.2v1.2h-1.2zM776.44 335.89h1.2v1.2h-1.2zM776.44 345.23h1.2v1.2h-1.2zM776.44 354.56h1.2v1.2h-1.2zM776.44 363.9h1.2v1.2h-1.2zM776.44 373.24h1.2v1.2h-1.2zM776.44 382.58h1.2v1.2h-1.2zM776.44 391.92h1.2v1.2h-1.2zM776.44 401.25h1.2v1.2h-1.2zM776.44 410.59h1.2v1.2h-1.2zM776.44 419.93h1.2v1.2h-1.2zM776.44 429.27h1.2v1.2h-1.2zM776.44 438.61h1.2v1.2h-1.2zM776.44 447.94h1.2v1.2h-1.2zM776.44 457.28h1.2v1.2h-1.2zM776.44 466.62h1.2v1.2h-1.2zM776.44 475.96h1.2v1.2h-1.2zM776.44 485.3h1.2v1.2h-1.2zM776.44 494.63h1.2v1.2h-1.2zM776.44 503.97h1.2v1.2h-1.2zM776.44 513.31h1.2v1.2h-1.2zM776.44 522.65h1.2v1.2h-1.2zM776.44 531.99h1.2v1.2h-1.2zM776.44 541.32h1.2v1.2h-1.2zM776.44 550.66h1.2v1.2h-1.2zM776.44 560h1.2v1.2h-1.2zM776.44 569.34h1.2v1.2h-1.2zM776.44 578.68h1.2v1.2h-1.2zM776.44 588.01h1.2v1.2h-1.2zM776.44 597.35h1.2v1.2h-1.2zM776.44 606.69h1.2v1.2h-1.2zM776.44 616.03h1.2v1.2h-1.2zM776.44 625.37h1.2v1.2h-1.2zM776.44 634.7h1.2v1.2h-1.2zM776.44 644.04h1.2v1.2h-1.2zM776.44 653.38h1.2v1.2h-1.2zM785.78 -0.28h1.2v1.2h-1.2zM785.78 93.1h1.2v1.2h-1.2zM785.78 186.48h1.2v1.2h-1.2zM785.78 279.86h1.2v1.2h-1.2zM785.78 373.24h1.2v1.2h-1.2zM785.78 466.62h1.2v1.2h-1.2zM785.78 560h1.2v1.2h-1.2zM785.78 653.38h1.2v1.2h-1.2zM795.13 -0.28h1.2v1.2h-1.2zM795.13 93.1h1.2v1.2h-1.2zM795.13 186.48h1.2v1.2h-1.2zM795.13 279.86h1.2v1.2h-1.2zM795.13 373.24h1.2v1.2h-1.2zM795.13 466.62h1.2v1.2h-1.2zM795.13 560h1.2v1.2h-1.2zM795.13 653.38h1.2v1.2h-1.2zM804.47 -0.28h1.2v1.2h-1.2zM804.47 93.1h1.2v1.2h-1.2zM804.47 186.48h1.2v1.2h-1.2zM804.47 279.86h1.2v1.2h-1.2zM804.47 373.24h1.2v1.2h-1.2zM804.47 466.62h1.2v1.2h-1.2zM804.47 560h1.2v1.2h-1.2zM804.47 653.38h1.2v1.2h-1.2zM813.81 -0.28h1.2v1.2h-1.2zM813.81 93.1h1.2v1.2h-1.2zM813.81 186.48h1.2v1.2h-1.2zM813.81 279.86h1.2v1.2h-1.2zM813.81 373.24h1.2v1.2h-1.2zM813.81 466.62h1.2v1.2h-1.2zM813.81 560h1.2v1.2h-1.2zM813.81 653.38h1.2v1.2h-1.2zM823.15 -0.28h1.2v1.2h-1.2zM823.15 93.1h1.2v1.2h-1.2zM823.15 186.48h1.2v1.2h-1.2zM823.15 279.86h1.2v1.2h-1.2zM823.15 373.24h1.2v1.2h-1.2zM823.15 466.62h1.2v1.2h-1.2zM823.15 560h1.2v1.2h-1.2zM823.15 653.38h1.2v1.2h-1.2zM832.5 -0.28h1.2v1.2h-1.2zM832.5 93.1h1.2v1.2h-1.2zM832.5 186.48h1.2v1.2h-1.2zM832.5 279.86h1.2v1.2h-1.2zM832.5 373.24h1.2v1.2h-1.2zM832.5 466.62h1.2v1.2h-1.2zM832.5 560h1.2v1.2h-1.2zM832.5 653.38h1.2v1.2h-1.2zM841.84 -0.28h1.2v1.2h-1.2zM841.84 93.1h1.2v1.2h-1.2zM841.84 186.48h1.2v1.2h-1.2zM841.84 279.86h1.2v1.2h-1.2zM841.84 373.24h1.2v1.2h-1.2zM841.84 466.62h1.2v1.2h-1.2zM841.84 560h1.2v1.2h-1.2zM841.84 653.38h1.2v1.2h-1.2zM851.18 -0.28h1.2v1.2h-1.2zM851.18 93.1h1.2v1.2h-1.2zM851.18 186.48h1.2v1.2h-1.2zM851.18 279.86h1.2v1.2h-1.2zM851.18 373.24h1.2v1.2h-1.2zM851.18 466.62h1.2v1.2h-1.2zM851.18 560h1.2v1.2h-1.2zM851.18 653.38h1.2v1.2h-1.2zM860.53 -0.28h1.2v1.2h-1.2zM860.53 93.1h1.2v1.2h-1.2zM860.53 186.48h1.2v1.2h-1.2zM860.53 279.86h1.2v1.2h-1.2zM860.53 373.24h1.2v1.2h-1.2zM860.53 466.62h1.2v1.2h-1.2zM860.53 560h1.2v1.2h-1.2zM860.53 653.38h1.2v1.2h-1.2zM869.87 -0.28h1.2v1.2h-1.2zM869.87 9.06h1.2v1.2h-1.2zM869.87 18.4h1.2v1.2h-1.2zM869.87 27.73h1.2v1.2h-1.2zM869.87 37.07h1.2v1.2h-1.2zM869.87 46.41h1.2v1.2h-1.2zM869.87 55.75h1.2v1.2h-1.2zM869.87 65.09h1.2v1.2h-1.2zM869.87 74.42h1.2v1.2h-1.2zM869.87 83.76h1.2v1.2h-1.2zM869.87 93.1h1.2v1.2h-1.2zM869.87 102.44h1.2v1.2h-1.2zM869.87 111.78h1.2v1.2h-1.2zM869.87 121.11h1.2v1.2h-1.2zM869.87 130.45h1.2v1.2h-1.2zM869.87 139.79h1.2v1.2h-1.2zM869.87 149.13h1.2v1.2h-1.2zM869.87 158.47h1.2v1.2h-1.2zM869.87 167.8h1.2v1.2h-1.2zM869.87 177.14h1.2v1.2h-1.2zM869.87 186.48h1.2v1.2h-1.2zM869.87 195.82h1.2v1.2h-1.2zM869.87 205.16h1.2v1.2h-1.2zM869.87 214.49h1.2v1.2h-1.2zM869.87 223.83h1.2v1.2h-1.2zM869.87 233.17h1.2v1.2h-1.2zM869.87 242.51h1.2v1.2h-1.2zM869.87 251.85h1.2v1.2h-1.2zM869.87 261.18h1.2v1.2h-1.2zM869.87 270.52h1.2v1.2h-1.2zM869.87 279.86h1.2v1.2h-1.2zM869.87 289.2h1.2v1.2h-1.2zM869.87 298.54h1.2v1.2h-1.2zM869.87 307.87h1.2v1.2h-1.2zM869.87 317.21h1.2v1.2h-1.2zM869.87 326.55h1.2v1.2h-1.2zM869.87 335.89h1.2v1.2h-1.2zM869.87 345.23h1.2v1.2h-1.2zM869.87 354.56h1.2v1.2h-1.2zM869.87 363.9h1.2v1.2h-1.2zM869.87 373.24h1.2v1.2h-1.2zM869.87 382.58h1.2v1.2h-1.2zM869.87 391.92h1.2v1.2h-1.2zM869.87 401.25h1.2v1.2h-1.2zM869.87 410.59h1.2v1.2h-1.2zM869.87 419.93h1.2v1.2h-1.2zM869.87 429.27h1.2v1.2h-1.2zM869.87 438.61h1.2v1.2h-1.2zM869.87 447.94h1.2v1.2h-1.2zM869.87 457.28h1.2v1.2h-1.2zM869.87 466.62h1.2v1.2h-1.2zM869.87 475.96h1.2v1.2h-1.2zM869.87 485.3h1.2v1.2h-1.2zM869.87 494.63h1.2v1.2h-1.2zM869.87 503.97h1.2v1.2h-1.2zM869.87 513.31h1.2v1.2h-1.2zM869.87 522.65h1.2v1.2h-1.2zM869.87 531.99h1.2v1.2h-1.2zM869.87 541.32h1.2v1.2h-1.2zM869.87 550.66h1.2v1.2h-1.2zM869.87 560h1.2v1.2h-1.2zM869.87 569.34h1.2v1.2h-1.2zM869.87 578.68h1.2v1.2h-1.2zM869.87 588.01h1.2v1.2h-1.2zM869.87 597.35h1.2v1.2h-1.2zM869.87 606.69h1.2v1.2h-1.2zM869.87 616.03h1.2v1.2h-1.2zM869.87 625.37h1.2v1.2h-1.2zM869.87 634.7h1.2v1.2h-1.2zM869.87 644.04h1.2v1.2h-1.2zM869.87 653.38h1.2v1.2h-1.2zM879.21 -0.28h1.2v1.2h-1.2zM879.21 93.1h1.2v1.2h-1.2zM879.21 186.48h1.2v1.2h-1.2zM879.21 279.86h1.2v1.2h-1.2zM879.21 373.24h1.2v1.2h-1.2zM879.21 466.62h1.2v1.2h-1.2zM879.21 560h1.2v1.2h-1.2zM879.21 653.38h1.2v1.2h-1.2zM888.56 -0.28h1.2v1.2h-1.2zM888.56 93.1h1.2v1.2h-1.2zM888.56 186.48h1.2v1.2h-1.2zM888.56 279.86h1.2v1.2h-1.2zM888.56 373.24h1.2v1.2h-1.2zM888.56 466.62h1.2v1.2h-1.2zM888.56 560h1.2v1.2h-1.2zM888.56 653.38h1.2v1.2h-1.2zM897.9 -0.28h1.2v1.2h-1.2zM897.9 93.1h1.2v1.2h-1.2zM897.9 186.48h1.2v1.2h-1.2zM897.9 279.86h1.2v1.2h-1.2zM897.9 373.24h1.2v1.2h-1.2zM897.9 466.62h1.2v1.2h-1.2zM897.9 560h1.2v1.2h-1.2zM897.9 653.38h1.2v1.2h-1.2zM907.24 -0.28h1.2v1.2h-1.2zM907.24 93.1h1.2v1.2h-1.2zM907.24 186.48h1.2v1.2h-1.2zM907.24 279.86h1.2v1.2h-1.2zM907.24 373.24h1.2v1.2h-1.2zM907.24 466.62h1.2v1.2h-1.2zM907.24 560h1.2v1.2h-1.2zM907.24 653.38h1.2v1.2h-1.2zM916.59 -0.28h1.2v1.2h-1.2zM916.59 93.1h1.2v1.2h-1.2zM916.59 186.48h1.2v1.2h-1.2zM916.59 279.86h1.2v1.2h-1.2zM916.59 373.24h1.2v1.2h-1.2zM916.59 466.62h1.2v1.2h-1.2zM916.59 560h1.2v1.2h-1.2zM916.59 653.38h1.2v1.2h-1.2zM925.93 -0.28h1.2v1.2h-1.2zM925.93 93.1h1.2v1.2h-1.2zM925.93 186.48h1.2v1.2h-1.2zM925.93 279.86h1.2v1.2h-1.2zM925.93 373.24h1.2v1.2h-1.2zM925.93 466.62h1.2v1.2h-1.2zM925.93 560h1.2v1.2h-1.2zM925.93 653.38h1.2v1.2h-1.2zM935.27 -0.28h1.2v1.2h-1.2zM935.27 93.1h1.2v1.2h-1.2zM935.27 186.48h1.2v1.2h-1.2zM935.27 279.86h1.2v1.2h-1.2zM935.27 373.24h1.2v1.2h-1.2zM935.27 466.62h1.2v1.2h-1.2zM935.27 560h1.2v1.2h-1.2zM935.27 653.38h1.2v1.2h-1.2zM944.61 -0.28h1.2v1.2h-1.2zM944.61 93.1h1.2v1.2h-1.2zM944.61 186.48h1.2v1.2h-1.2zM944.61 279.86h1.2v1.2h-1.2zM944.61 373.24h1.2v1.2h-1.2zM944.61 466.62h1.2v1.2h-1.2zM944.61 560h1.2v1.2h-1.2zM944.61 653.38h1.2v1.2h-1.2zM953.96 -0.28h1.2v1.2h-1.2zM953.96 93.1h1.2v1.2h-1.2zM953.96 186.48h1.2v1.2h-1.2zM953.96 279.86h1.2v1.2h-1.2zM953.96 373.24h1.2v1.2h-1.2zM953.96 466.62h1.2v1.2h-1.2zM953.96 560h1.2v1.2h-1.2zM953.96 653.38h1.2v1.2h-1.2zM963.3 -0.28h1.2v1.2h-1.2zM963.3 9.06h1.2v1.2h-1.2zM963.3 18.4h1.2v1.2h-1.2zM963.3 27.73h1.2v1.2h-1.2zM963.3 37.07h1.2v1.2h-1.2zM963.3 46.41h1.2v1.2h-1.2zM963.3 55.75h1.2v1.2h-1.2zM963.3 65.09h1.2v1.2h-1.2zM963.3 74.42h1.2v1.2h-1.2zM963.3 83.76h1.2v1.2h-1.2zM963.3 93.1h1.2v1.2h-1.2zM963.3 102.44h1.2v1.2h-1.2zM963.3 111.78h1.2v1.2h-1.2zM963.3 121.11h1.2v1.2h-1.2zM963.3 130.45h1.2v1.2h-1.2zM963.3 139.79h1.2v1.2h-1.2zM963.3 149.13h1.2v1.2h-1.2zM963.3 158.47h1.2v1.2h-1.2zM963.3 167.8h1.2v1.2h-1.2zM963.3 177.14h1.2v1.2h-1.2zM963.3 186.48h1.2v1.2h-1.2zM963.3 195.82h1.2v1.2h-1.2zM963.3 205.16h1.2v1.2h-1.2zM963.3 214.49h1.2v1.2h-1.2zM963.3 223.83h1.2v1.2h-1.2zM963.3 233.17h1.2v1.2h-1.2zM963.3 242.51h1.2v1.2h-1.2zM963.3 251.85h1.2v1.2h-1.2zM963.3 261.18h1.2v1.2h-1.2zM963.3 270.52h1.2v1.2h-1.2zM963.3 279.86h1.2v1.2h-1.2zM963.3 289.2h1.2v1.2h-1.2zM963.3 298.54h1.2v1.2h-1.2zM963.3 307.87h1.2v1.2h-1.2zM963.3 317.21h1.2v1.2h-1.2zM963.3 326.55h1.2v1.2h-1.2zM963.3 335.89h1.2v1.2h-1.2zM963.3 345.23h1.2v1.2h-1.2zM963.3 354.56h1.2v1.2h-1.2zM963.3 363.9h1.2v1.2h-1.2zM963.3 373.24h1.2v1.2h-1.2zM963.3 382.58h1.2v1.2h-1.2zM963.3 391.92h1.2v1.2h-1.2zM963.3 401.25h1.2v1.2h-1.2zM963.3 410.59h1.2v1.2h-1.2zM963.3 419.93h1.2v1.2h-1.2zM963.3 429.27h1.2v1.2h-1.2zM963.3 438.61h1.2v1.2h-1.2zM963.3 447.94h1.2v1.2h-1.2zM963.3 457.28h1.2v1.2h-1.2zM963.3 466.62h1.2v1.2h-1.2zM963.3 475.96h1.2v1.2h-1.2zM963.3 485.3h1.2v1.2h-1.2zM963.3 494.63h1.2v1.2h-1.2zM963.3 503.97h1.2v1.2h-1.2zM963.3 513.31h1.2v1.2h-1.2zM963.3 522.65h1.2v1.2h-1.2zM963.3 531.99h1.2v1.2h-1.2zM963.3 541.32h1.2v1.2h-1.2zM963.3 550.66h1.2v1.2h-1.2zM963.3 560h1.2v1.2h-1.2zM963.3 569.34h1.2v1.2h-1.2zM963.3 578.68h1.2v1.2h-1.2zM963.3 588.01h1.2v1.2h-1.2zM963.3 597.35h1.2v1.2h-1.2zM963.3 606.69h1.2v1.2h-1.2zM963.3 616.03h1.2v1.2h-1.2zM963.3 625.37h1.2v1.2h-1.2zM963.3 634.7h1.2v1.2h-1.2zM963.3 644.04h1.2v1.2h-1.2zM963.3 653.38h1.2v1.2h-1.2zM972.64 -0.28h1.2v1.2h-1.2zM972.64 93.1h1.2v1.2h-1.2zM972.64 186.48h1.2v1.2h-1.2zM972.64 279.86h1.2v1.2h-1.2zM972.64 373.24h1.2v1.2h-1.2zM972.64 466.62h1.2v1.2h-1.2zM972.64 560h1.2v1.2h-1.2zM972.64 653.38h1.2v1.2h-1.2zM981.99 -0.28h1.2v1.2h-1.2zM981.99 93.1h1.2v1.2h-1.2zM981.99 186.48h1.2v1.2h-1.2zM981.99 279.86h1.2v1.2h-1.2zM981.99 373.24h1.2v1.2h-1.2zM981.99 466.62h1.2v1.2h-1.2zM981.99 560h1.2v1.2h-1.2zM981.99 653.38h1.2v1.2h-1.2zM991.33 -0.28h1.2v1.2h-1.2zM991.33 93.1h1.2v1.2h-1.2zM991.33 186.48h1.2v1.2h-1.2zM991.33 279.86h1.2v1.2h-1.2zM991.33 373.24h1.2v1.2h-1.2zM991.33 466.62h1.2v1.2h-1.2zM991.33 560h1.2v1.2h-1.2zM991.33 653.38h1.2v1.2h-1.2z" fill="#2a2a2a"/>
<path d="M423.3 67.8 L409.4 80.6 L415.7 107.2" fill="none" stroke="#000" stroke-width="4.1" stroke-linecap="round" stroke-linejoin="round"/>
<path d="M409.6 81.1 H432.5" fill="none" stroke="#000" stroke-width="4.0"/>
<path d="M432 80.5 H474.2" fill="none" stroke="#000" stroke-width="4.8"/>
<path d="M473.9 79.6 H494.3" fill="none" stroke="#000" stroke-width="4.8" stroke-linecap="round"/>
<text x="436.5" y="60.5" font-size="13" font-weight="bold" fill="#000" textLength="52.8" lengthAdjust="spacingAndGlyphs">Что это?</text>
<path d="M899.9 587.6 L887 587.2 L882.4 586.5 M892.2 577.4 L886.8 581.8 L882.4 586.5 L885.4 590.8 L887.9 595 L891.3 596" fill="none" stroke="#000" stroke-width="2.7" stroke-linecap="round" stroke-linejoin="round"/>
<text x="905.6" y="570.8" font-size="13" font-weight="bold" fill="#000" textLength="72.4" lengthAdjust="spacingAndGlyphs">Просто два</text>
<text x="905.6" y="587.7" font-size="13" font-weight="bold" fill="#000" textLength="90.5" lengthAdjust="spacingAndGlyphs">конденсатора</text>
<text x="905.6" y="605.3" font-size="13" font-weight="bold" fill="#000" textLength="54" lengthAdjust="spacingAndGlyphs">к земле?</text>
<path d="M740.4 644.7 C755 644.4 768 643 780.5 639.7 C790 637.3 800 636.1 807.8 636.3" fill="none" stroke="#000" stroke-width="3.1" stroke-linecap="round" stroke-linejoin="round"/>
<path d="M796.7 632.3 L801.5 633.3 L807.9 636.4 L800.3 644.8" fill="none" stroke="#000" stroke-width="3.8" stroke-linecap="round" stroke-linejoin="round"/>
<text x="734.3" y="629.3" font-size="13" font-weight="bold" fill="#000" textLength="63.8" lengthAdjust="spacingAndGlyphs">А что это?</text>
<path d="M825.8,614.2 L832.6,609.8 L839.5,606.8 L843.4,604.4 L849.3,603.9 L857.2,605.1 L863,607.8 L868,610.3 L872.8,614.2 L877.7,615.2 L881.7,619.6 L882.6,626.4 L882.6,635.3 L881.7,642.1 L877.7,648 L869.9,652.9 L862,655.8 L852.3,655.8 L843.4,655.4 L834.6,652.9 L827.7,648 L824.8,641.1 L822.4,634.3 L821.9,625.5 L823.3,617.6Z" fill="none" stroke="#000" stroke-width="3.2" stroke-linejoin="round"/>
</svg></body></html>
